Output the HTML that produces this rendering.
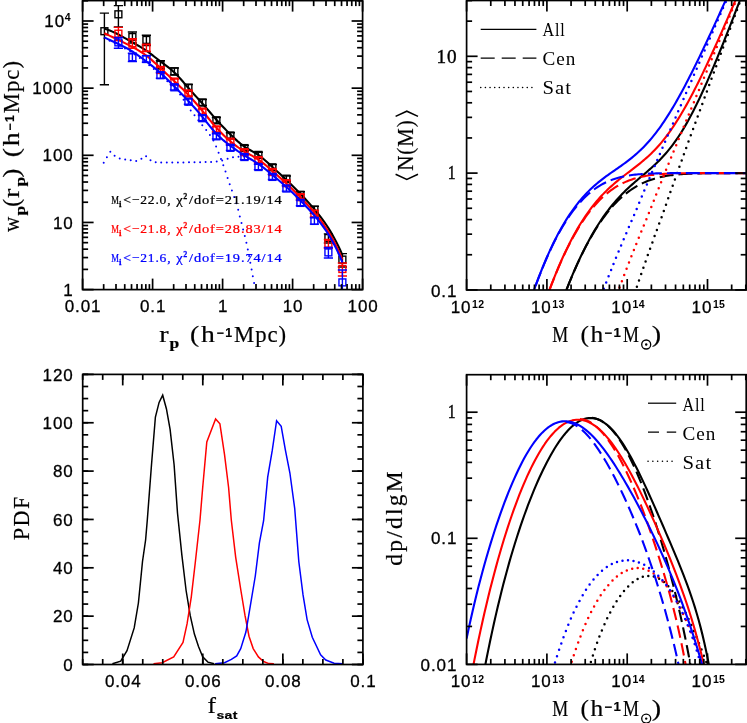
<!DOCTYPE html>
<html><head><meta charset="utf-8"><title>HOD figure</title>
<style>
html,body{margin:0;padding:0;background:#fff;}
body{width:747px;height:723px;overflow:hidden;font-family:"Liberation Sans",sans-serif;}
svg{display:block;will-change:transform;}
text{white-space:pre;}
</style></head><body>
<svg width="747" height="723" viewBox="0 0 747 723">
<rect width="747" height="723" fill="#fff"/>
<clipPath id="clip1"><rect x="82.6" y="0.6" width="280.0" height="289.0"/></clipPath>
<path d="M103.7 162.8h0M106.9 157.2h0M110.3 151.7h0M114.6 155.8h0M119.7 158.4h0M125.2 159.5h0M130.7 160.3h0M136.2 160.9h0M141.4 158.7h0M146.1 156.2h0M150.5 160.3h0M155.7 162.3h0M161.2 162.4h0M166.8 162.4h0M172.3 162.4h0M177.9 162.4h0M183.4 162.4h0M189.0 162.3h0M194.5 162.3h0M200.1 162.2h0M205.6 162.1h0M211.1 161.9h0M216.7 161.5h0M222.2 160.4h0M227.6 158.8h0M233.0 157.3h0M238.5 156.7h0M244.0 156.4h0" fill="none" stroke="#00f" stroke-width="2.0" stroke-linecap="round" clip-path="url(#clip1)"/>
<path d="M104.4 38.2h0M109.6 40.7h0M114.7 43.2h0M119.9 45.8h0M125.0 48.6h0M130.1 51.3h0M135.0 54.5h0M139.8 58.0h0M144.6 61.5h0M149.2 65.2h0M153.8 69.0h0M158.4 72.9h0M162.9 77.0h0M167.3 81.3h0M171.6 85.5h0M176.0 89.8h0M180.1 94.4h0M183.6 99.7h0M187.1 105.0h0M190.7 110.4h0M194.5 115.3h0M198.4 120.3h0M202.3 125.2h0M206.2 130.0h0M209.9 135.1h0M213.4 140.6h0M216.1 146.5h0M218.6 152.7h0M221.0 158.9h0M223.3 165.2h0M225.5 171.5h0M227.6 177.9h0M229.7 184.3h0M231.9 190.6h0M234.2 196.9h0M236.4 203.2h0M238.2 209.8h0M239.8 216.4h0M241.5 222.9h0M243.1 229.5h0M244.8 236.1h0M246.4 242.7h0M247.8 249.4h0M249.1 256.1h0M250.3 262.8h0M251.6 269.6h0M252.8 276.3h0M254.1 283.0h0M255.4 289.7h0" fill="none" stroke="#00f" stroke-width="2.0" stroke-linecap="round" clip-path="url(#clip1)"/>
<g clip-path="url(#clip1)" stroke="#000" stroke-width="1.4" fill="none">
<rect x="100.95" y="27.75" width="6.9" height="6.9"/>
<path d="M104.40 13.10V84.70M99.80 13.10H109.00M99.80 84.70H109.00"/>
<rect x="114.95" y="10.85" width="6.9" height="6.9"/>
<path d="M118.40 5.60V27.00M113.80 5.60H123.00M113.80 27.00H123.00"/>
<rect x="128.95" y="33.55" width="6.9" height="6.9"/>
<path d="M132.40 32.00V43.00M127.80 32.00H137.00M127.80 43.00H137.00"/>
<rect x="142.95" y="36.45" width="6.9" height="6.9"/>
<path d="M146.40 35.20V45.50M141.80 35.20H151.00M141.80 45.50H151.00"/>
<rect x="156.95" y="61.15" width="6.9" height="6.9"/>
<path d="M160.40 60.80V69.00M155.80 60.80H165.00M155.80 69.00H165.00"/>
<rect x="170.95" y="67.85" width="6.9" height="6.9"/>
<path d="M174.40 68.00V75.00M169.80 68.00H179.00M169.80 75.00H179.00"/>
<rect x="184.95" y="84.25" width="6.9" height="6.9"/>
<path d="M188.40 84.50V91.00M183.80 84.50H193.00M183.80 91.00H193.00"/>
<rect x="198.95" y="99.05" width="6.9" height="6.9"/>
<path d="M202.40 99.50V105.50M197.80 99.50H207.00M197.80 105.50H207.00"/>
<rect x="212.95" y="116.85" width="6.9" height="6.9"/>
<path d="M216.40 117.50V123.00M211.80 117.50H221.00M211.80 123.00H221.00"/>
<rect x="226.95" y="132.05" width="6.9" height="6.9"/>
<path d="M230.40 132.80V138.20M225.80 132.80H235.00M225.80 138.20H235.00"/>
<rect x="240.95" y="144.65" width="6.9" height="6.9"/>
<path d="M244.40 145.40V150.80M239.80 145.40H249.00M239.80 150.80H249.00"/>
<rect x="254.95" y="151.45" width="6.9" height="6.9"/>
<path d="M258.40 152.20V157.60M253.80 152.20H263.00M253.80 157.60H263.00"/>
<rect x="268.95" y="163.85" width="6.9" height="6.9"/>
<path d="M272.40 164.60V170.00M267.80 164.60H277.00M267.80 170.00H277.00"/>
<rect x="282.95" y="175.25" width="6.9" height="6.9"/>
<path d="M286.40 176.00V181.40M281.80 176.00H291.00M281.80 181.40H291.00"/>
<rect x="296.95" y="191.35" width="6.9" height="6.9"/>
<path d="M300.40 191.80V197.80M295.80 191.80H305.00M295.80 197.80H305.00"/>
<rect x="310.95" y="206.35" width="6.9" height="6.9"/>
<path d="M314.40 206.30V213.30M309.80 206.30H319.00M309.80 213.30H319.00"/>
<rect x="324.95" y="234.55" width="6.9" height="6.9"/>
<path d="M328.40 233.90V243.00M323.80 233.90H333.00M323.80 243.00H333.00"/>
<rect x="338.95" y="256.15" width="6.9" height="6.9"/>
<path d="M342.40 253.60V267.00M337.80 253.60H347.00M337.80 267.00H347.00"/>
</g>
<polyline points="104.40,28.80 106.40,29.36 108.40,30.01 110.40,30.76 112.40,31.60 114.40,32.50 116.40,33.47 118.40,34.50 120.40,35.57 122.40,36.68 124.40,37.81 126.40,38.95 128.40,40.11 130.40,41.26 132.40,42.40 134.40,43.52 136.40,44.64 138.40,45.76 140.40,46.92 142.40,48.11 144.40,49.37 146.40,50.70 148.40,52.12 150.40,53.60 152.40,55.14 154.40,56.71 156.40,58.29 158.40,59.86 160.40,61.40 162.40,62.90 164.40,64.37 166.40,65.86 168.40,67.38 170.40,68.98 172.40,70.67 174.40,72.50 176.40,74.48 178.40,76.58 180.40,78.79 182.40,81.06 184.40,83.38 186.40,85.70 188.40,88.00 190.40,90.26 192.40,92.48 194.40,94.67 196.40,96.86 198.40,99.05 200.40,101.26 202.40,103.50 204.40,105.79 206.40,108.10 208.40,110.44 210.40,112.78 212.40,115.12 214.40,117.43 216.40,119.70 218.40,121.93 220.40,124.10 222.40,126.24 224.40,128.33 226.40,130.39 228.40,132.41 230.40,134.40 232.40,136.36 234.40,138.28 236.40,140.13 238.40,141.91 240.40,143.59 242.40,145.16 244.40,146.60 246.40,147.90 248.40,149.10 250.40,150.23 252.40,151.34 254.40,152.48 256.40,153.69 258.40,155.00 260.40,156.45 262.40,158.04 264.40,159.72 266.40,161.48 268.40,163.30 270.40,165.15 272.40,167.00 274.40,168.84 276.40,170.67 278.40,172.49 280.40,174.32 282.40,176.16 284.40,178.01 286.40,179.90 288.40,181.82 290.40,183.77 292.40,185.75 294.40,187.75 296.40,189.78 298.40,191.83 300.40,193.90 302.40,195.98 304.40,198.09 306.40,200.22 308.40,202.40 310.40,204.61 312.40,206.88 314.40,209.20 316.40,211.59 318.40,214.06 320.40,216.62 322.40,219.29 324.40,222.09 326.40,225.02 328.40,228.10 330.40,231.35 332.40,234.77 334.40,238.39 336.40,242.22 338.40,246.27 340.40,250.56 342.40,255.10" fill="none" stroke="#000" stroke-width="2.1" stroke-linejoin="round" stroke-linecap="butt" clip-path="url(#clip1)"/>
<g clip-path="url(#clip1)" stroke="#f00" stroke-width="1.4" fill="none">
<rect x="114.95" y="30.25" width="6.9" height="6.9"/>
<path d="M118.40 27.40V40.50M113.80 27.40H123.00M113.80 40.50H123.00"/>
<rect x="128.95" y="39.75" width="6.9" height="6.9"/>
<path d="M132.40 38.70V48.20M127.80 38.70H137.00M127.80 48.20H137.00"/>
<rect x="142.95" y="44.35" width="6.9" height="6.9"/>
<path d="M146.40 44.50V51.50M141.80 44.50H151.00M141.80 51.50H151.00"/>
<rect x="156.95" y="66.55" width="6.9" height="6.9"/>
<path d="M160.40 67.00V73.00M155.80 67.00H165.00M155.80 73.00H165.00"/>
<rect x="170.95" y="78.15" width="6.9" height="6.9"/>
<path d="M174.40 79.00V84.20M169.80 79.00H179.00M169.80 84.20H179.00"/>
<rect x="184.95" y="89.95" width="6.9" height="6.9"/>
<path d="M188.40 90.80V96.00M183.80 90.80H193.00M183.80 96.00H193.00"/>
<rect x="198.95" y="108.15" width="6.9" height="6.9"/>
<path d="M202.40 109.00V114.20M197.80 109.00H207.00M197.80 114.20H207.00"/>
<rect x="212.95" y="125.95" width="6.9" height="6.9"/>
<path d="M216.40 126.80V132.00M211.80 126.80H221.00M211.80 132.00H221.00"/>
<rect x="226.95" y="138.25" width="6.9" height="6.9"/>
<path d="M230.40 139.10V144.30M225.80 139.10H235.00M225.80 144.30H235.00"/>
<rect x="240.95" y="148.75" width="6.9" height="6.9"/>
<path d="M244.40 149.60V154.80M239.80 149.60H249.00M239.80 154.80H249.00"/>
<rect x="254.95" y="156.65" width="6.9" height="6.9"/>
<path d="M258.40 157.50V162.70M253.80 157.50H263.00M253.80 162.70H263.00"/>
<rect x="268.95" y="168.55" width="6.9" height="6.9"/>
<path d="M272.40 169.40V174.60M267.80 169.40H277.00M267.80 174.60H277.00"/>
<rect x="282.95" y="179.75" width="6.9" height="6.9"/>
<path d="M286.40 180.60V185.80M281.80 180.60H291.00M281.80 185.80H291.00"/>
<rect x="296.95" y="193.75" width="6.9" height="6.9"/>
<path d="M300.40 194.40V200.00M295.80 194.40H305.00M295.80 200.00H305.00"/>
<rect x="310.95" y="210.25" width="6.9" height="6.9"/>
<path d="M314.40 210.50V216.90M309.80 210.50H319.00M309.80 216.90H319.00"/>
<rect x="324.95" y="240.25" width="6.9" height="6.9"/>
<path d="M328.40 239.50V248.20M323.80 239.50H333.00M323.80 248.20H333.00"/>
<rect x="338.95" y="265.55" width="6.9" height="6.9"/>
<path d="M342.40 263.00V276.00M337.80 263.00H347.00M337.80 276.00H347.00"/>
</g>
<polyline points="104.40,33.30 106.40,34.23 108.40,35.16 110.40,36.10 112.40,37.04 114.40,37.98 116.40,38.94 118.40,39.90 120.40,40.87 122.40,41.86 124.40,42.85 126.40,43.86 128.40,44.89 130.40,45.94 132.40,47.00 134.40,48.09 136.40,49.20 138.40,50.37 140.40,51.58 142.40,52.87 144.40,54.24 146.40,55.70 148.40,57.26 150.40,58.91 152.40,60.64 154.40,62.42 156.40,64.26 158.40,66.12 160.40,68.00 162.40,69.88 164.40,71.77 166.40,73.66 168.40,75.54 170.40,77.43 172.40,79.31 174.40,81.20 176.40,83.09 178.40,84.98 180.40,86.89 182.40,88.83 184.40,90.80 186.40,92.82 188.40,94.90 190.40,97.04 192.40,99.23 194.40,101.48 196.40,103.78 198.40,106.12 200.40,108.49 202.40,110.90 204.40,113.33 206.40,115.77 208.40,118.21 210.40,120.62 212.40,123.00 214.40,125.33 216.40,127.60 218.40,129.79 220.40,131.90 222.40,133.93 224.40,135.89 226.40,137.77 228.40,139.57 230.40,141.30 232.40,142.96 234.40,144.54 236.40,146.05 238.40,147.50 240.40,148.87 242.40,150.17 244.40,151.40 246.40,152.57 248.40,153.69 250.40,154.80 252.40,155.92 254.40,157.07 256.40,158.29 258.40,159.60 260.40,161.02 262.40,162.53 264.40,164.13 266.40,165.79 268.40,167.50 270.40,169.24 272.40,171.00 274.40,172.76 276.40,174.51 278.40,176.28 280.40,178.05 282.40,179.85 284.40,181.66 286.40,183.50 288.40,185.37 290.40,187.27 292.40,189.20 294.40,191.16 296.40,193.15 298.40,195.16 300.40,197.20 302.40,199.26 304.40,201.36 306.40,203.49 308.40,205.66 310.40,207.88 312.40,210.16 314.40,212.50 316.40,214.91 318.40,217.41 320.40,220.00 322.40,222.72 324.40,225.56 326.40,228.55 328.40,231.70 330.40,235.03 332.40,238.55 334.40,242.28 336.40,246.24 338.40,250.43 340.40,254.88 342.40,259.60" fill="none" stroke="#f00" stroke-width="2.1" stroke-linejoin="round" stroke-linecap="butt" clip-path="url(#clip1)"/>
<g clip-path="url(#clip1)" stroke="#00f" stroke-width="1.4" fill="none">
<rect x="114.95" y="38.95" width="6.9" height="6.9"/>
<path d="M118.40 37.40V48.20M113.80 37.40H123.00M113.80 48.20H123.00"/>
<rect x="128.95" y="53.85" width="6.9" height="6.9"/>
<path d="M132.40 53.20V61.50M127.80 53.20H137.00M127.80 61.50H137.00"/>
<rect x="142.95" y="55.55" width="6.9" height="6.9"/>
<path d="M146.40 55.70V62.30M141.80 55.70H151.00M141.80 62.30H151.00"/>
<rect x="156.95" y="71.75" width="6.9" height="6.9"/>
<path d="M160.40 72.20V78.20M155.80 72.20H165.00M155.80 78.20H165.00"/>
<rect x="170.95" y="83.85" width="6.9" height="6.9"/>
<path d="M174.40 84.70V89.90M169.80 84.70H179.00M169.80 89.90H179.00"/>
<rect x="184.95" y="98.25" width="6.9" height="6.9"/>
<path d="M188.40 99.10V104.30M183.80 99.10H193.00M183.80 104.30H193.00"/>
<rect x="198.95" y="114.75" width="6.9" height="6.9"/>
<path d="M202.40 115.60V120.80M197.80 115.60H207.00M197.80 120.80H207.00"/>
<rect x="212.95" y="132.85" width="6.9" height="6.9"/>
<path d="M216.40 133.70V138.90M211.80 133.70H221.00M211.80 138.90H221.00"/>
<rect x="226.95" y="144.35" width="6.9" height="6.9"/>
<path d="M230.40 145.20V150.40M225.80 145.20H235.00M225.80 150.40H235.00"/>
<rect x="240.95" y="153.55" width="6.9" height="6.9"/>
<path d="M244.40 154.40V159.60M239.80 154.40H249.00M239.80 159.60H249.00"/>
<rect x="254.95" y="163.55" width="6.9" height="6.9"/>
<path d="M258.40 164.40V169.60M253.80 164.40H263.00M253.80 169.60H263.00"/>
<rect x="268.95" y="173.45" width="6.9" height="6.9"/>
<path d="M272.40 174.30V179.50M267.80 174.30H277.00M267.80 179.50H277.00"/>
<rect x="282.95" y="185.05" width="6.9" height="6.9"/>
<path d="M286.40 185.90V191.10M281.80 185.90H291.00M281.80 191.10H291.00"/>
<rect x="296.95" y="199.45" width="6.9" height="6.9"/>
<path d="M300.40 200.10V205.70M295.80 200.10H305.00M295.80 205.70H305.00"/>
<rect x="310.95" y="217.45" width="6.9" height="6.9"/>
<path d="M314.40 217.70V224.10M309.80 217.70H319.00M309.80 224.10H319.00"/>
<rect x="324.95" y="248.95" width="6.9" height="6.9"/>
<path d="M328.40 247.50V258.00M323.80 247.50H333.00M323.80 258.00H333.00"/>
<rect x="338.95" y="278.95" width="6.9" height="6.9"/>
<path d="M342.40 270.00V296.00M337.80 270.00H347.00M337.80 296.00H347.00"/>
</g>
<polyline points="104.40,37.40 106.40,38.39 108.40,39.34 110.40,40.28 112.40,41.21 114.40,42.14 116.40,43.06 118.40,44.00 120.40,44.96 122.40,45.94 124.40,46.95 126.40,48.01 128.40,49.12 130.40,50.28 132.40,51.50 134.40,52.79 136.40,54.15 138.40,55.55 140.40,57.00 142.40,58.48 144.40,59.98 146.40,61.50 148.40,63.02 150.40,64.56 152.40,66.12 154.40,67.72 156.40,69.36 158.40,71.05 160.40,72.80 162.40,74.62 164.40,76.51 166.40,78.45 168.40,80.42 170.40,82.43 172.40,84.46 174.40,86.50 176.40,88.54 178.40,90.58 180.40,92.64 182.40,94.70 184.40,96.78 186.40,98.88 188.40,101.00 190.40,103.15 192.40,105.34 194.40,107.56 196.40,109.82 198.40,112.13 200.40,114.49 202.40,116.90 204.40,119.36 206.40,121.86 208.40,124.35 210.40,126.81 212.40,129.21 214.40,131.51 216.40,133.70 218.40,135.74 220.40,137.65 222.40,139.44 224.40,141.13 226.40,142.75 228.40,144.30 230.40,145.80 232.40,147.27 234.40,148.72 236.40,150.13 238.40,151.51 240.40,152.84 242.40,154.14 244.40,155.40 246.40,156.62 248.40,157.80 250.40,158.98 252.40,160.18 254.40,161.40 256.40,162.67 258.40,164.00 260.40,165.41 262.40,166.90 264.40,168.45 266.40,170.05 268.40,171.68 270.40,173.33 272.40,175.00 274.40,176.67 276.40,178.34 278.40,180.03 280.40,181.73 282.40,183.45 284.40,185.21 286.40,187.00 288.40,188.83 290.40,190.70 292.40,192.60 294.40,194.54 296.40,196.50 298.40,198.49 300.40,200.50 302.40,202.53 304.40,204.59 306.40,206.67 308.40,208.80 310.40,210.98 312.40,213.21 314.40,215.50 316.40,217.86 318.40,220.31 320.40,222.86 322.40,225.53 324.40,228.33 326.40,231.28 328.40,234.40 330.40,237.70 332.40,241.21 334.40,244.93 336.40,248.88 338.40,253.08 340.40,257.55 342.40,262.30" fill="none" stroke="#00f" stroke-width="2.1" stroke-linejoin="round" stroke-linecap="butt" clip-path="url(#clip1)"/>
<rect x="82.6" y="0.6" width="280.0" height="289.0" fill="none" stroke="#000" stroke-width="1.7"/>
<line x1="82.60" y1="289.60" x2="82.60" y2="278.60" stroke="#000" stroke-width="1.7" />
<line x1="82.60" y1="0.60" x2="82.60" y2="11.60" stroke="#000" stroke-width="1.7" />
<line x1="152.60" y1="289.60" x2="152.60" y2="278.60" stroke="#000" stroke-width="1.7" />
<line x1="152.60" y1="0.60" x2="152.60" y2="11.60" stroke="#000" stroke-width="1.7" />
<line x1="222.60" y1="289.60" x2="222.60" y2="278.60" stroke="#000" stroke-width="1.7" />
<line x1="222.60" y1="0.60" x2="222.60" y2="11.60" stroke="#000" stroke-width="1.7" />
<line x1="292.60" y1="289.60" x2="292.60" y2="278.60" stroke="#000" stroke-width="1.7" />
<line x1="292.60" y1="0.60" x2="292.60" y2="11.60" stroke="#000" stroke-width="1.7" />
<line x1="362.60" y1="289.60" x2="362.60" y2="278.60" stroke="#000" stroke-width="1.7" />
<line x1="362.60" y1="0.60" x2="362.60" y2="11.60" stroke="#000" stroke-width="1.7" />
<line x1="103.67" y1="289.60" x2="103.67" y2="284.10" stroke="#000" stroke-width="1.7" />
<line x1="103.67" y1="0.60" x2="103.67" y2="6.10" stroke="#000" stroke-width="1.7" />
<line x1="116.00" y1="289.60" x2="116.00" y2="284.10" stroke="#000" stroke-width="1.7" />
<line x1="116.00" y1="0.60" x2="116.00" y2="6.10" stroke="#000" stroke-width="1.7" />
<line x1="124.74" y1="289.60" x2="124.74" y2="284.10" stroke="#000" stroke-width="1.7" />
<line x1="124.74" y1="0.60" x2="124.74" y2="6.10" stroke="#000" stroke-width="1.7" />
<line x1="131.53" y1="289.60" x2="131.53" y2="284.10" stroke="#000" stroke-width="1.7" />
<line x1="131.53" y1="0.60" x2="131.53" y2="6.10" stroke="#000" stroke-width="1.7" />
<line x1="137.07" y1="289.60" x2="137.07" y2="284.10" stroke="#000" stroke-width="1.7" />
<line x1="137.07" y1="0.60" x2="137.07" y2="6.10" stroke="#000" stroke-width="1.7" />
<line x1="141.76" y1="289.60" x2="141.76" y2="284.10" stroke="#000" stroke-width="1.7" />
<line x1="141.76" y1="0.60" x2="141.76" y2="6.10" stroke="#000" stroke-width="1.7" />
<line x1="145.82" y1="289.60" x2="145.82" y2="284.10" stroke="#000" stroke-width="1.7" />
<line x1="145.82" y1="0.60" x2="145.82" y2="6.10" stroke="#000" stroke-width="1.7" />
<line x1="149.40" y1="289.60" x2="149.40" y2="284.10" stroke="#000" stroke-width="1.7" />
<line x1="149.40" y1="0.60" x2="149.40" y2="6.10" stroke="#000" stroke-width="1.7" />
<line x1="173.67" y1="289.60" x2="173.67" y2="284.10" stroke="#000" stroke-width="1.7" />
<line x1="173.67" y1="0.60" x2="173.67" y2="6.10" stroke="#000" stroke-width="1.7" />
<line x1="186.00" y1="289.60" x2="186.00" y2="284.10" stroke="#000" stroke-width="1.7" />
<line x1="186.00" y1="0.60" x2="186.00" y2="6.10" stroke="#000" stroke-width="1.7" />
<line x1="194.74" y1="289.60" x2="194.74" y2="284.10" stroke="#000" stroke-width="1.7" />
<line x1="194.74" y1="0.60" x2="194.74" y2="6.10" stroke="#000" stroke-width="1.7" />
<line x1="201.53" y1="289.60" x2="201.53" y2="284.10" stroke="#000" stroke-width="1.7" />
<line x1="201.53" y1="0.60" x2="201.53" y2="6.10" stroke="#000" stroke-width="1.7" />
<line x1="207.07" y1="289.60" x2="207.07" y2="284.10" stroke="#000" stroke-width="1.7" />
<line x1="207.07" y1="0.60" x2="207.07" y2="6.10" stroke="#000" stroke-width="1.7" />
<line x1="211.76" y1="289.60" x2="211.76" y2="284.10" stroke="#000" stroke-width="1.7" />
<line x1="211.76" y1="0.60" x2="211.76" y2="6.10" stroke="#000" stroke-width="1.7" />
<line x1="215.82" y1="289.60" x2="215.82" y2="284.10" stroke="#000" stroke-width="1.7" />
<line x1="215.82" y1="0.60" x2="215.82" y2="6.10" stroke="#000" stroke-width="1.7" />
<line x1="219.40" y1="289.60" x2="219.40" y2="284.10" stroke="#000" stroke-width="1.7" />
<line x1="219.40" y1="0.60" x2="219.40" y2="6.10" stroke="#000" stroke-width="1.7" />
<line x1="243.67" y1="289.60" x2="243.67" y2="284.10" stroke="#000" stroke-width="1.7" />
<line x1="243.67" y1="0.60" x2="243.67" y2="6.10" stroke="#000" stroke-width="1.7" />
<line x1="256.00" y1="289.60" x2="256.00" y2="284.10" stroke="#000" stroke-width="1.7" />
<line x1="256.00" y1="0.60" x2="256.00" y2="6.10" stroke="#000" stroke-width="1.7" />
<line x1="264.74" y1="289.60" x2="264.74" y2="284.10" stroke="#000" stroke-width="1.7" />
<line x1="264.74" y1="0.60" x2="264.74" y2="6.10" stroke="#000" stroke-width="1.7" />
<line x1="271.53" y1="289.60" x2="271.53" y2="284.10" stroke="#000" stroke-width="1.7" />
<line x1="271.53" y1="0.60" x2="271.53" y2="6.10" stroke="#000" stroke-width="1.7" />
<line x1="277.07" y1="289.60" x2="277.07" y2="284.10" stroke="#000" stroke-width="1.7" />
<line x1="277.07" y1="0.60" x2="277.07" y2="6.10" stroke="#000" stroke-width="1.7" />
<line x1="281.76" y1="289.60" x2="281.76" y2="284.10" stroke="#000" stroke-width="1.7" />
<line x1="281.76" y1="0.60" x2="281.76" y2="6.10" stroke="#000" stroke-width="1.7" />
<line x1="285.82" y1="289.60" x2="285.82" y2="284.10" stroke="#000" stroke-width="1.7" />
<line x1="285.82" y1="0.60" x2="285.82" y2="6.10" stroke="#000" stroke-width="1.7" />
<line x1="289.40" y1="289.60" x2="289.40" y2="284.10" stroke="#000" stroke-width="1.7" />
<line x1="289.40" y1="0.60" x2="289.40" y2="6.10" stroke="#000" stroke-width="1.7" />
<line x1="313.67" y1="289.60" x2="313.67" y2="284.10" stroke="#000" stroke-width="1.7" />
<line x1="313.67" y1="0.60" x2="313.67" y2="6.10" stroke="#000" stroke-width="1.7" />
<line x1="326.00" y1="289.60" x2="326.00" y2="284.10" stroke="#000" stroke-width="1.7" />
<line x1="326.00" y1="0.60" x2="326.00" y2="6.10" stroke="#000" stroke-width="1.7" />
<line x1="334.74" y1="289.60" x2="334.74" y2="284.10" stroke="#000" stroke-width="1.7" />
<line x1="334.74" y1="0.60" x2="334.74" y2="6.10" stroke="#000" stroke-width="1.7" />
<line x1="341.53" y1="289.60" x2="341.53" y2="284.10" stroke="#000" stroke-width="1.7" />
<line x1="341.53" y1="0.60" x2="341.53" y2="6.10" stroke="#000" stroke-width="1.7" />
<line x1="347.07" y1="289.60" x2="347.07" y2="284.10" stroke="#000" stroke-width="1.7" />
<line x1="347.07" y1="0.60" x2="347.07" y2="6.10" stroke="#000" stroke-width="1.7" />
<line x1="351.76" y1="289.60" x2="351.76" y2="284.10" stroke="#000" stroke-width="1.7" />
<line x1="351.76" y1="0.60" x2="351.76" y2="6.10" stroke="#000" stroke-width="1.7" />
<line x1="355.82" y1="289.60" x2="355.82" y2="284.10" stroke="#000" stroke-width="1.7" />
<line x1="355.82" y1="0.60" x2="355.82" y2="6.10" stroke="#000" stroke-width="1.7" />
<line x1="359.40" y1="289.60" x2="359.40" y2="284.10" stroke="#000" stroke-width="1.7" />
<line x1="359.40" y1="0.60" x2="359.40" y2="6.10" stroke="#000" stroke-width="1.7" />
<line x1="82.60" y1="289.60" x2="93.60" y2="289.60" stroke="#000" stroke-width="1.7" />
<line x1="362.60" y1="289.60" x2="351.60" y2="289.60" stroke="#000" stroke-width="1.7" />
<line x1="82.60" y1="222.45" x2="93.60" y2="222.45" stroke="#000" stroke-width="1.7" />
<line x1="362.60" y1="222.45" x2="351.60" y2="222.45" stroke="#000" stroke-width="1.7" />
<line x1="82.60" y1="155.30" x2="93.60" y2="155.30" stroke="#000" stroke-width="1.7" />
<line x1="362.60" y1="155.30" x2="351.60" y2="155.30" stroke="#000" stroke-width="1.7" />
<line x1="82.60" y1="88.15" x2="93.60" y2="88.15" stroke="#000" stroke-width="1.7" />
<line x1="362.60" y1="88.15" x2="351.60" y2="88.15" stroke="#000" stroke-width="1.7" />
<line x1="82.60" y1="21.00" x2="93.60" y2="21.00" stroke="#000" stroke-width="1.7" />
<line x1="362.60" y1="21.00" x2="351.60" y2="21.00" stroke="#000" stroke-width="1.7" />
<line x1="82.60" y1="269.39" x2="88.10" y2="269.39" stroke="#000" stroke-width="1.7" />
<line x1="362.60" y1="269.39" x2="357.10" y2="269.39" stroke="#000" stroke-width="1.7" />
<line x1="82.60" y1="257.56" x2="88.10" y2="257.56" stroke="#000" stroke-width="1.7" />
<line x1="362.60" y1="257.56" x2="357.10" y2="257.56" stroke="#000" stroke-width="1.7" />
<line x1="82.60" y1="249.17" x2="88.10" y2="249.17" stroke="#000" stroke-width="1.7" />
<line x1="362.60" y1="249.17" x2="357.10" y2="249.17" stroke="#000" stroke-width="1.7" />
<line x1="82.60" y1="242.66" x2="88.10" y2="242.66" stroke="#000" stroke-width="1.7" />
<line x1="362.60" y1="242.66" x2="357.10" y2="242.66" stroke="#000" stroke-width="1.7" />
<line x1="82.60" y1="237.35" x2="88.10" y2="237.35" stroke="#000" stroke-width="1.7" />
<line x1="362.60" y1="237.35" x2="357.10" y2="237.35" stroke="#000" stroke-width="1.7" />
<line x1="82.60" y1="232.85" x2="88.10" y2="232.85" stroke="#000" stroke-width="1.7" />
<line x1="362.60" y1="232.85" x2="357.10" y2="232.85" stroke="#000" stroke-width="1.7" />
<line x1="82.60" y1="228.96" x2="88.10" y2="228.96" stroke="#000" stroke-width="1.7" />
<line x1="362.60" y1="228.96" x2="357.10" y2="228.96" stroke="#000" stroke-width="1.7" />
<line x1="82.60" y1="225.52" x2="88.10" y2="225.52" stroke="#000" stroke-width="1.7" />
<line x1="362.60" y1="225.52" x2="357.10" y2="225.52" stroke="#000" stroke-width="1.7" />
<line x1="82.60" y1="202.24" x2="88.10" y2="202.24" stroke="#000" stroke-width="1.7" />
<line x1="362.60" y1="202.24" x2="357.10" y2="202.24" stroke="#000" stroke-width="1.7" />
<line x1="82.60" y1="190.41" x2="88.10" y2="190.41" stroke="#000" stroke-width="1.7" />
<line x1="362.60" y1="190.41" x2="357.10" y2="190.41" stroke="#000" stroke-width="1.7" />
<line x1="82.60" y1="182.02" x2="88.10" y2="182.02" stroke="#000" stroke-width="1.7" />
<line x1="362.60" y1="182.02" x2="357.10" y2="182.02" stroke="#000" stroke-width="1.7" />
<line x1="82.60" y1="175.51" x2="88.10" y2="175.51" stroke="#000" stroke-width="1.7" />
<line x1="362.60" y1="175.51" x2="357.10" y2="175.51" stroke="#000" stroke-width="1.7" />
<line x1="82.60" y1="170.20" x2="88.10" y2="170.20" stroke="#000" stroke-width="1.7" />
<line x1="362.60" y1="170.20" x2="357.10" y2="170.20" stroke="#000" stroke-width="1.7" />
<line x1="82.60" y1="165.70" x2="88.10" y2="165.70" stroke="#000" stroke-width="1.7" />
<line x1="362.60" y1="165.70" x2="357.10" y2="165.70" stroke="#000" stroke-width="1.7" />
<line x1="82.60" y1="161.81" x2="88.10" y2="161.81" stroke="#000" stroke-width="1.7" />
<line x1="362.60" y1="161.81" x2="357.10" y2="161.81" stroke="#000" stroke-width="1.7" />
<line x1="82.60" y1="158.37" x2="88.10" y2="158.37" stroke="#000" stroke-width="1.7" />
<line x1="362.60" y1="158.37" x2="357.10" y2="158.37" stroke="#000" stroke-width="1.7" />
<line x1="82.60" y1="135.09" x2="88.10" y2="135.09" stroke="#000" stroke-width="1.7" />
<line x1="362.60" y1="135.09" x2="357.10" y2="135.09" stroke="#000" stroke-width="1.7" />
<line x1="82.60" y1="123.26" x2="88.10" y2="123.26" stroke="#000" stroke-width="1.7" />
<line x1="362.60" y1="123.26" x2="357.10" y2="123.26" stroke="#000" stroke-width="1.7" />
<line x1="82.60" y1="114.87" x2="88.10" y2="114.87" stroke="#000" stroke-width="1.7" />
<line x1="362.60" y1="114.87" x2="357.10" y2="114.87" stroke="#000" stroke-width="1.7" />
<line x1="82.60" y1="108.36" x2="88.10" y2="108.36" stroke="#000" stroke-width="1.7" />
<line x1="362.60" y1="108.36" x2="357.10" y2="108.36" stroke="#000" stroke-width="1.7" />
<line x1="82.60" y1="103.05" x2="88.10" y2="103.05" stroke="#000" stroke-width="1.7" />
<line x1="362.60" y1="103.05" x2="357.10" y2="103.05" stroke="#000" stroke-width="1.7" />
<line x1="82.60" y1="98.55" x2="88.10" y2="98.55" stroke="#000" stroke-width="1.7" />
<line x1="362.60" y1="98.55" x2="357.10" y2="98.55" stroke="#000" stroke-width="1.7" />
<line x1="82.60" y1="94.66" x2="88.10" y2="94.66" stroke="#000" stroke-width="1.7" />
<line x1="362.60" y1="94.66" x2="357.10" y2="94.66" stroke="#000" stroke-width="1.7" />
<line x1="82.60" y1="91.22" x2="88.10" y2="91.22" stroke="#000" stroke-width="1.7" />
<line x1="362.60" y1="91.22" x2="357.10" y2="91.22" stroke="#000" stroke-width="1.7" />
<line x1="82.60" y1="67.94" x2="88.10" y2="67.94" stroke="#000" stroke-width="1.7" />
<line x1="362.60" y1="67.94" x2="357.10" y2="67.94" stroke="#000" stroke-width="1.7" />
<line x1="82.60" y1="56.11" x2="88.10" y2="56.11" stroke="#000" stroke-width="1.7" />
<line x1="362.60" y1="56.11" x2="357.10" y2="56.11" stroke="#000" stroke-width="1.7" />
<line x1="82.60" y1="47.72" x2="88.10" y2="47.72" stroke="#000" stroke-width="1.7" />
<line x1="362.60" y1="47.72" x2="357.10" y2="47.72" stroke="#000" stroke-width="1.7" />
<line x1="82.60" y1="41.21" x2="88.10" y2="41.21" stroke="#000" stroke-width="1.7" />
<line x1="362.60" y1="41.21" x2="357.10" y2="41.21" stroke="#000" stroke-width="1.7" />
<line x1="82.60" y1="35.90" x2="88.10" y2="35.90" stroke="#000" stroke-width="1.7" />
<line x1="362.60" y1="35.90" x2="357.10" y2="35.90" stroke="#000" stroke-width="1.7" />
<line x1="82.60" y1="31.40" x2="88.10" y2="31.40" stroke="#000" stroke-width="1.7" />
<line x1="362.60" y1="31.40" x2="357.10" y2="31.40" stroke="#000" stroke-width="1.7" />
<line x1="82.60" y1="27.51" x2="88.10" y2="27.51" stroke="#000" stroke-width="1.7" />
<line x1="362.60" y1="27.51" x2="357.10" y2="27.51" stroke="#000" stroke-width="1.7" />
<line x1="82.60" y1="24.07" x2="88.10" y2="24.07" stroke="#000" stroke-width="1.7" />
<line x1="362.60" y1="24.07" x2="357.10" y2="24.07" stroke="#000" stroke-width="1.7" />
<line x1="82.60" y1="0.79" x2="88.10" y2="0.79" stroke="#000" stroke-width="1.7" />
<line x1="362.60" y1="0.79" x2="357.10" y2="0.79" stroke="#000" stroke-width="1.7" />
<text x="0" y="0" transform="translate(83.10 311.80)" text-anchor="middle" fill="#000" style="font-family:'Liberation Sans',sans-serif;font-size:17px;font-weight:normal;letter-spacing:0.9px;"  stroke="#000" stroke-width="0.3">0.01</text>
<text x="0" y="0" transform="translate(153.10 311.80)" text-anchor="middle" fill="#000" style="font-family:'Liberation Sans',sans-serif;font-size:17px;font-weight:normal;letter-spacing:0.9px;"  stroke="#000" stroke-width="0.3">0.1</text>
<text x="0" y="0" transform="translate(223.10 311.80)" text-anchor="middle" fill="#000" style="font-family:'Liberation Sans',sans-serif;font-size:17px;font-weight:normal;letter-spacing:0.9px;"  stroke="#000" stroke-width="0.3">1</text>
<text x="0" y="0" transform="translate(293.10 311.80)" text-anchor="middle" fill="#000" style="font-family:'Liberation Sans',sans-serif;font-size:17px;font-weight:normal;letter-spacing:0.9px;"  stroke="#000" stroke-width="0.3">10</text>
<text x="0" y="0" transform="translate(363.10 311.80)" text-anchor="middle" fill="#000" style="font-family:'Liberation Sans',sans-serif;font-size:17px;font-weight:normal;letter-spacing:0.9px;"  stroke="#000" stroke-width="0.3">100</text>
<text x="0" y="0" transform="translate(73.60 295.70)" text-anchor="end" fill="#000" style="font-family:'Liberation Sans',sans-serif;font-size:17px;font-weight:normal;letter-spacing:0.9px;"  stroke="#000" stroke-width="0.3">1</text>
<text x="0" y="0" transform="translate(73.60 228.55)" text-anchor="end" fill="#000" style="font-family:'Liberation Sans',sans-serif;font-size:17px;font-weight:normal;letter-spacing:0.9px;"  stroke="#000" stroke-width="0.3">10</text>
<text x="0" y="0" transform="translate(73.60 161.40)" text-anchor="end" fill="#000" style="font-family:'Liberation Sans',sans-serif;font-size:17px;font-weight:normal;letter-spacing:0.9px;"  stroke="#000" stroke-width="0.3">100</text>
<text x="0" y="0" transform="translate(73.60 94.25)" text-anchor="end" fill="#000" style="font-family:'Liberation Sans',sans-serif;font-size:17px;font-weight:normal;letter-spacing:0.9px;"  stroke="#000" stroke-width="0.3">1000</text>
<text x="0" y="0" transform="translate(65.00 27.10)" text-anchor="end" fill="#000" style="font-family:'Liberation Sans',sans-serif;font-size:17px;font-weight:normal;letter-spacing:0.9px;"  stroke="#000" stroke-width="0.3">10</text>
<text x="0" y="0" transform="translate(64.80 20.80)" text-anchor="start" fill="#000" style="font-family:'Liberation Sans',sans-serif;font-size:10.5px;font-weight:bold;" >4</text>
<text x="0" y="0" transform="translate(159.19 341.80) scale(1.2500 1)" fill="#000" style="font-family:'Liberation Serif',serif;font-size:22.5px;font-weight:normal;letter-spacing:0.0px;" stroke="#000" stroke-width="0.18">r</text>
<text x="0" y="0" transform="translate(169.57 347.70) scale(1.2500 1)" fill="#000" style="font-family:'Liberation Serif',serif;font-size:14px;font-weight:bold;letter-spacing:0.0px;" stroke="#000" stroke-width="0.18">p</text>
<text x="0" y="0" transform="translate(189.89 341.80) scale(1.2309 1)" fill="#000" style="font-family:'Liberation Serif',serif;font-size:22.5px;font-weight:normal;letter-spacing:1.5px;" stroke="#000" stroke-width="0.18">(h</text>
<text x="0" y="0" transform="translate(216.99 336.60) scale(1.0280 1)" fill="#000" style="font-family:'Liberation Sans',sans-serif;font-size:12px;font-weight:bold;letter-spacing:1.0px;" stroke="#000" stroke-width="0.18">−1</text>
<text x="0" y="0" transform="translate(233.99 341.80) scale(1.0091 1)" fill="#000" style="font-family:'Liberation Serif',serif;font-size:22.5px;font-weight:normal;letter-spacing:1.0px;" stroke="#000" stroke-width="0.18">Mpc)</text>
<text x="0" y="0" transform="translate(18.80 232.00) rotate(-90) scale(0.9383 1)" fill="#000" style="font-family:'Liberation Serif',serif;font-size:22.5px;font-weight:normal;letter-spacing:0.0px;" stroke="#000" stroke-width="0.18">w</text>
<text x="0" y="0" transform="translate(24.60 215.38) rotate(-90) scale(1.2500 1)" fill="#000" style="font-family:'Liberation Serif',serif;font-size:14px;font-weight:bold;letter-spacing:0.0px;" stroke="#000" stroke-width="0.18">p</text>
<text x="0" y="0" transform="translate(18.80 206.65) rotate(-90) scale(1.0508 1)" fill="#000" style="font-family:'Liberation Serif',serif;font-size:22.5px;font-weight:normal;letter-spacing:0.0px;" stroke="#000" stroke-width="0.18">(</text>
<text x="0" y="0" transform="translate(18.80 198.06) rotate(-90) scale(1.2500 1)" fill="#000" style="font-family:'Liberation Serif',serif;font-size:22.5px;font-weight:normal;letter-spacing:0.0px;" stroke="#000" stroke-width="0.18">r</text>
<text x="0" y="0" transform="translate(24.60 186.43) rotate(-90) scale(1.2500 1)" fill="#000" style="font-family:'Liberation Serif',serif;font-size:14px;font-weight:bold;letter-spacing:0.0px;" stroke="#000" stroke-width="0.18">p</text>
<text x="0" y="0" transform="translate(18.80 177.53) rotate(-90) scale(1.1864 1)" fill="#000" style="font-family:'Liberation Serif',serif;font-size:22.5px;font-weight:normal;letter-spacing:0.0px;" stroke="#000" stroke-width="0.18">)</text>
<text x="0" y="0" transform="translate(18.80 157.31) rotate(-90) scale(1.2309 1)" fill="#000" style="font-family:'Liberation Serif',serif;font-size:22.5px;font-weight:normal;letter-spacing:1.5px;" stroke="#000" stroke-width="0.18">(h</text>
<text x="0" y="0" transform="translate(13.60 130.21) rotate(-90) scale(1.0280 1)" fill="#000" style="font-family:'Liberation Sans',sans-serif;font-size:12px;font-weight:bold;letter-spacing:1.0px;" stroke="#000" stroke-width="0.18">−1</text>
<text x="0" y="0" transform="translate(18.80 113.21) rotate(-90) scale(1.0091 1)" fill="#000" style="font-family:'Liberation Serif',serif;font-size:22.5px;font-weight:normal;letter-spacing:1.0px;" stroke="#000" stroke-width="0.18">Mpc)</text>
<text x="0" y="0" transform="translate(111.20 203.70) scale(0.6697 1)" fill="#000" style="font-family:'Liberation Serif',serif;font-size:13px;font-weight:normal;letter-spacing:0.0px;" stroke="#000" stroke-width="0.25">M</text>
<text x="0" y="0" transform="translate(119.10 206.70) scale(1.0455 1)" fill="#000" style="font-family:'Liberation Serif',serif;font-size:8.5px;font-weight:bold;letter-spacing:0.0px;" stroke="#000" stroke-width="0.25">i</text>
<text x="0" y="0" transform="translate(123.17 203.70) scale(1.0451 1)" fill="#000" style="font-family:'Liberation Serif',serif;font-size:13px;font-weight:normal;letter-spacing:0.8px;" stroke="#000" stroke-width="0.25">&lt;−22.0,</text>
<text x="0" y="0" transform="translate(176.20 203.70) scale(1.1186 1)" fill="#000" style="font-family:'Liberation Serif',serif;font-size:13px;font-weight:normal;letter-spacing:0.0px;" stroke="#000" stroke-width="0.25">χ</text>
<text x="0" y="0" transform="translate(183.32 199.40) scale(0.9444 1)" fill="#000" style="font-family:'Liberation Serif',serif;font-size:8.5px;font-weight:bold;letter-spacing:0.0px;" stroke="#000" stroke-width="0.25">2</text>
<text x="0" y="0" transform="translate(189.00 203.70) scale(1.1085 1)" fill="#000" style="font-family:'Liberation Serif',serif;font-size:13px;font-weight:normal;letter-spacing:0.8px;" stroke="#000" stroke-width="0.25">/dof=21.19/14</text>
<text x="0" y="0" transform="translate(111.20 232.50) scale(0.6697 1)" fill="#f00" style="font-family:'Liberation Serif',serif;font-size:13px;font-weight:normal;letter-spacing:0.0px;" stroke="#f00" stroke-width="0.25">M</text>
<text x="0" y="0" transform="translate(119.10 235.50) scale(1.0455 1)" fill="#f00" style="font-family:'Liberation Serif',serif;font-size:8.5px;font-weight:bold;letter-spacing:0.0px;" stroke="#f00" stroke-width="0.25">i</text>
<text x="0" y="0" transform="translate(123.17 232.50) scale(1.0451 1)" fill="#f00" style="font-family:'Liberation Serif',serif;font-size:13px;font-weight:normal;letter-spacing:0.8px;" stroke="#f00" stroke-width="0.25">&lt;−21.8,</text>
<text x="0" y="0" transform="translate(176.20 232.50) scale(1.1186 1)" fill="#f00" style="font-family:'Liberation Serif',serif;font-size:13px;font-weight:normal;letter-spacing:0.0px;" stroke="#f00" stroke-width="0.25">χ</text>
<text x="0" y="0" transform="translate(183.32 228.20) scale(0.9444 1)" fill="#f00" style="font-family:'Liberation Serif',serif;font-size:8.5px;font-weight:bold;letter-spacing:0.0px;" stroke="#f00" stroke-width="0.25">2</text>
<text x="0" y="0" transform="translate(189.00 232.50) scale(1.1085 1)" fill="#f00" style="font-family:'Liberation Serif',serif;font-size:13px;font-weight:normal;letter-spacing:0.8px;" stroke="#f00" stroke-width="0.25">/dof=28.83/14</text>
<text x="0" y="0" transform="translate(111.20 261.50) scale(0.6697 1)" fill="#00f" style="font-family:'Liberation Serif',serif;font-size:13px;font-weight:normal;letter-spacing:0.0px;" stroke="#00f" stroke-width="0.25">M</text>
<text x="0" y="0" transform="translate(119.10 264.50) scale(1.0455 1)" fill="#00f" style="font-family:'Liberation Serif',serif;font-size:8.5px;font-weight:bold;letter-spacing:0.0px;" stroke="#00f" stroke-width="0.25">i</text>
<text x="0" y="0" transform="translate(123.17 261.50) scale(1.0451 1)" fill="#00f" style="font-family:'Liberation Serif',serif;font-size:13px;font-weight:normal;letter-spacing:0.8px;" stroke="#00f" stroke-width="0.25">&lt;−21.6,</text>
<text x="0" y="0" transform="translate(176.20 261.50) scale(1.1186 1)" fill="#00f" style="font-family:'Liberation Serif',serif;font-size:13px;font-weight:normal;letter-spacing:0.0px;" stroke="#00f" stroke-width="0.25">χ</text>
<text x="0" y="0" transform="translate(183.32 257.20) scale(0.9444 1)" fill="#00f" style="font-family:'Liberation Serif',serif;font-size:8.5px;font-weight:bold;letter-spacing:0.0px;" stroke="#00f" stroke-width="0.25">2</text>
<text x="0" y="0" transform="translate(189.00 261.50) scale(1.1085 1)" fill="#00f" style="font-family:'Liberation Serif',serif;font-size:13px;font-weight:normal;letter-spacing:0.8px;" stroke="#00f" stroke-width="0.25">/dof=19.74/14</text>
<clipPath id="clip2"><rect x="466.6" y="0.5" width="279.6" height="289.5"/></clipPath>
<path d="M605.7 397.4h0M607.4 390.9h0M609.1 384.3h0M610.8 377.7h0M612.5 371.2h0M614.3 364.6h0M616.1 358.1h0M617.8 351.5h0M619.6 345.0h0M621.5 338.5h0M623.3 332.0h0M625.2 325.5h0M627.1 319.0h0M629.0 312.5h0M630.9 306.0h0M632.8 299.6h0M634.8 293.1h0M636.9 286.7h0M639.0 280.4h0M641.2 274.0h0M643.4 267.7h0M645.6 261.4h0M647.8 255.0h0M650.1 248.7h0M652.4 242.4h0M654.6 236.1h0M656.9 229.9h0M659.2 223.6h0M661.6 217.3h0M663.8 211.0h0M666.0 204.7h0M668.2 198.3h0M670.4 192.0h0M672.7 185.7h0M674.9 179.4h0M677.1 173.1h0M679.4 166.8h0M681.7 160.5h0M683.9 154.2h0M686.2 147.9h0M688.5 141.6h0M690.8 135.3h0M693.1 129.0h0M695.4 122.7h0M697.7 116.5h0M700.0 110.2h0M702.3 103.9h0M704.6 97.6h0M706.9 91.4h0M709.2 85.1h0M711.5 78.8h0M713.8 72.6h0M716.2 66.3h0M718.5 60.0h0M720.8 53.7h0M723.1 47.5h0M725.4 41.2h0M727.8 34.9h0M730.1 28.7h0M732.4 22.4h0M734.7 16.1h0M737.0 9.9h0M739.3 3.6h0M741.7 -2.7h0M744.0 -8.9h0M746.3 -15.2h0M748.6 -21.5h0M750.9 -27.8h0M753.3 -34.0h0M755.6 -40.3h0" fill="none" stroke="#000" stroke-width="2.5" stroke-linecap="round" clip-path="url(#clip2)"/>
<polyline points="532.45,398.39 534.05,392.30 535.66,386.32 537.26,380.43 538.87,374.64 540.48,368.94 542.08,363.34 543.69,357.84 545.29,352.44 546.90,347.13 548.51,341.91 550.11,336.79 551.72,331.77 553.32,326.84 554.93,322.00 556.54,317.26 558.14,312.61 559.75,308.05 561.35,303.59 562.96,299.22 564.57,294.94 566.17,290.75 567.78,286.65 569.38,282.64 570.99,278.72 572.60,274.89 574.20,271.15 575.81,267.49 577.41,263.93 579.02,260.45 580.63,257.06 582.23,253.75 583.84,250.53 585.44,247.39 587.05,244.33 588.66,241.36 590.26,238.47 591.87,235.66 593.47,232.93 595.08,230.29 596.69,227.72 598.29,225.23 599.90,222.81 601.50,220.47 603.11,218.21 604.72,216.02 606.32,213.91 607.93,211.87 609.53,209.90 611.14,208.00 612.75,206.16 614.35,204.40 615.96,202.70 617.56,201.07 619.17,199.51 620.78,198.00 622.38,196.56 623.99,195.18 625.59,193.86 627.20,192.60 628.81,191.40 630.41,190.25 632.02,189.15 633.62,188.11 635.23,187.12 636.84,186.17 638.44,185.28 640.05,184.44 641.65,183.63 643.26,182.88 644.87,182.16 646.47,181.49 648.08,180.85 649.68,180.26 651.29,179.70 652.90,179.17 654.50,178.68 656.11,178.22 657.71,177.80 659.32,177.40 660.93,177.03 662.53,176.68 664.14,176.36 665.74,176.07 667.35,175.79 668.96,175.54 670.56,175.31 672.17,175.10 673.77,174.90 675.38,174.72 676.99,174.56 678.59,174.41 680.20,174.27 681.80,174.15 683.41,174.03 685.02,173.93 686.62,173.84 688.23,173.76 689.83,173.68 691.44,173.61 693.05,173.55 694.65,173.50 696.26,173.45 697.86,173.41 699.47,173.37 701.08,173.34 702.68,173.31 704.29,173.28 705.89,173.26 707.50,173.24 709.11,173.22 710.71,173.20 712.32,173.19 713.92,173.17 715.53,173.16 717.14,173.16 718.74,173.15 720.35,173.14 721.95,173.13 723.56,173.13 725.17,173.12 726.77,173.12 728.38,173.12 729.98,173.11 731.59,173.11 733.20,173.11 734.80,173.11 736.41,173.11 738.01,173.11 739.62,173.11 741.23,173.10 742.83,173.10 744.44,173.10 746.04,173.10 747.65,173.10 749.26,173.10 750.86,173.10 752.47,173.10 754.07,173.10 755.68,173.10" fill="none" stroke="#000" stroke-width="2.1" stroke-linejoin="round" stroke-linecap="butt" stroke-dasharray="14 5" clip-path="url(#clip2)"/>
<polyline points="532.45,398.37 534.05,392.28 535.66,386.29 537.26,380.40 538.87,374.60 540.48,368.91 542.08,363.30 543.69,357.80 545.29,352.39 546.90,347.08 548.51,341.86 550.11,336.73 551.72,331.70 553.32,326.77 554.93,321.92 556.54,317.17 558.14,312.52 559.75,307.95 561.35,303.48 562.96,299.10 564.57,294.81 566.17,290.60 567.78,286.49 569.38,282.47 570.99,278.54 572.60,274.69 574.20,270.93 575.81,267.26 577.41,263.67 579.02,260.17 580.63,256.75 582.23,253.42 583.84,250.16 585.44,246.99 587.05,243.90 588.66,240.89 590.26,237.96 591.87,235.11 593.47,232.33 595.08,229.63 596.69,227.00 598.29,224.45 599.90,221.97 601.50,219.55 603.11,217.21 604.72,214.93 606.32,212.72 607.93,210.58 609.53,208.49 611.14,206.47 612.75,204.50 614.35,202.59 615.96,200.74 617.56,198.93 619.17,197.18 620.78,195.48 622.38,193.82 623.99,192.20 625.59,190.62 627.20,189.08 628.81,187.57 630.41,186.09 632.02,184.64 633.62,183.21 635.23,181.81 636.84,180.42 638.44,179.04 640.05,177.67 641.65,176.31 643.26,174.94 644.87,173.58 646.47,172.20 648.08,170.82 649.68,169.41 651.29,167.99 652.90,166.54 654.50,165.06 656.11,163.54 657.71,161.99 659.32,160.39 660.93,158.75 662.53,157.05 664.14,155.30 665.74,153.49 667.35,151.61 668.96,149.67 670.56,147.66 672.17,145.58 673.77,143.42 675.38,141.19 676.99,138.88 678.59,136.49 680.20,134.02 681.80,131.48 683.41,128.85 685.02,126.15 686.62,123.36 688.23,120.50 689.83,117.56 691.44,114.55 693.05,111.47 694.65,108.31 696.26,105.09 697.86,101.80 699.47,98.45 701.08,95.03 702.68,91.56 704.29,88.03 705.89,84.45 707.50,80.82 709.11,77.14 710.71,73.41 712.32,69.64 713.92,65.83 715.53,61.99 717.14,58.11 718.74,54.19 720.35,50.25 721.95,46.27 723.56,42.27 725.17,38.24 726.77,34.19 728.38,30.12 729.98,26.03 731.59,21.91 733.20,17.78 734.80,13.64 736.41,9.48 738.01,5.30 739.62,1.11 741.23,-3.08 742.83,-7.30 744.44,-11.52 746.04,-15.75 747.65,-19.99 749.26,-24.23 750.86,-28.49 752.47,-32.75 754.07,-37.01 755.68,-41.29" fill="none" stroke="#000" stroke-width="2.1" stroke-linejoin="round" stroke-linecap="butt" clip-path="url(#clip2)"/>
<path d="M586.5 397.2h0M588.2 390.7h0M590.0 384.1h0M591.8 377.6h0M593.6 371.1h0M595.4 364.6h0M597.3 358.1h0M599.2 351.6h0M601.1 345.1h0M603.0 338.7h0M605.0 332.2h0M607.0 325.8h0M609.0 319.3h0M611.0 312.9h0M613.1 306.5h0M615.2 300.1h0M617.3 293.8h0M619.5 287.4h0M621.9 281.2h0M624.2 274.9h0M626.6 268.7h0M629.0 262.5h0M631.4 256.3h0M633.9 250.1h0M636.3 243.9h0M638.8 237.7h0M641.3 231.5h0M643.8 225.4h0M646.4 219.3h0M648.9 213.1h0M651.3 206.9h0M653.8 200.7h0M656.2 194.5h0M658.7 188.3h0M661.1 182.2h0M663.6 176.0h0M666.1 169.8h0M668.6 163.7h0M671.1 157.5h0M673.6 151.4h0M676.2 145.2h0M678.7 139.1h0M681.2 132.9h0M683.7 126.8h0M686.3 120.6h0M688.8 114.5h0M691.3 108.4h0M693.9 102.2h0M696.4 96.1h0M699.0 90.0h0M701.5 83.8h0M704.0 77.7h0M706.6 71.6h0M709.1 65.4h0M711.7 59.3h0M714.2 53.2h0M716.8 47.0h0M719.3 40.9h0M721.9 34.8h0M724.4 28.6h0M726.9 22.5h0M729.5 16.4h0M732.0 10.2h0M734.6 4.1h0M737.1 -2.0h0M739.7 -8.2h0M742.2 -14.3h0M744.8 -20.4h0M747.3 -26.6h0M749.9 -32.7h0M752.4 -38.8h0M754.9 -44.9h0" fill="none" stroke="#f00" stroke-width="2.5" stroke-linecap="round" clip-path="url(#clip2)"/>
<polyline points="516.39,399.86 517.99,393.52 519.60,387.28 521.20,381.14 522.81,375.12 524.42,369.19 526.02,363.37 527.63,357.66 529.23,352.04 530.84,346.53 532.45,341.13 534.05,335.83 535.66,330.62 537.26,325.53 538.87,320.53 540.48,315.63 542.08,310.84 543.69,306.14 545.29,301.54 546.90,297.05 548.51,292.65 550.11,288.35 551.72,284.14 553.32,280.04 554.93,276.03 556.54,272.11 558.14,268.30 559.75,264.57 561.35,260.94 562.96,257.40 564.57,253.96 566.17,250.61 567.78,247.35 569.38,244.17 570.99,241.09 572.60,238.10 574.20,235.19 575.81,232.37 577.41,229.64 579.02,226.99 580.63,224.43 582.23,221.95 583.84,219.55 585.44,217.23 587.05,214.99 588.66,212.83 590.26,210.75 591.87,208.75 593.47,206.82 595.08,204.96 596.69,203.18 598.29,201.46 599.90,199.82 601.50,198.25 603.11,196.74 604.72,195.30 606.32,193.92 607.93,192.61 609.53,191.36 611.14,190.17 612.75,189.03 614.35,187.96 615.96,186.94 617.56,185.97 619.17,185.05 620.78,184.19 622.38,183.37 623.99,182.60 625.59,181.87 627.20,181.19 628.81,180.55 630.41,179.95 632.02,179.39 633.62,178.87 635.23,178.38 636.84,177.92 638.44,177.50 640.05,177.11 641.65,176.74 643.26,176.41 644.87,176.10 646.47,175.81 648.08,175.55 649.68,175.31 651.29,175.08 652.90,174.88 654.50,174.70 656.11,174.53 657.71,174.38 659.32,174.24 660.93,174.11 662.53,174.00 664.14,173.90 665.74,173.80 667.35,173.72 668.96,173.65 670.56,173.58 672.17,173.52 673.77,173.47 675.38,173.42 676.99,173.38 678.59,173.35 680.20,173.31 681.80,173.28 683.41,173.26 685.02,173.24 686.62,173.22 688.23,173.20 689.83,173.19 691.44,173.17 693.05,173.16 694.65,173.15 696.26,173.15 697.86,173.14 699.47,173.13 701.08,173.13 702.68,173.12 704.29,173.12 705.89,173.12 707.50,173.11 709.11,173.11 710.71,173.11 712.32,173.11 713.92,173.11 715.53,173.11 717.14,173.10 718.74,173.10 720.35,173.10 721.95,173.10 723.56,173.10 725.17,173.10 726.77,173.10 728.38,173.10 729.98,173.10 731.59,173.10 733.20,173.10 734.80,173.10 736.41,173.10 738.01,173.10 739.62,173.10 741.23,173.10 742.83,173.10 744.44,173.10 746.04,173.10 747.65,173.10 749.26,173.10 750.86,173.10 752.47,173.10 754.07,173.10 755.68,173.10" fill="none" stroke="#f00" stroke-width="2.1" stroke-linejoin="round" stroke-linecap="butt" stroke-dasharray="14 5" clip-path="url(#clip2)"/>
<polyline points="516.39,399.83 517.99,393.48 519.60,387.24 521.20,381.10 522.81,375.07 524.42,369.14 526.02,363.32 527.63,357.59 529.23,351.98 530.84,346.46 532.45,341.05 534.05,335.74 535.66,330.53 537.26,325.42 538.87,320.42 540.48,315.51 542.08,310.71 543.69,306.00 545.29,301.39 546.90,296.88 548.51,292.47 550.11,288.15 551.72,283.93 553.32,279.81 554.93,275.78 556.54,271.84 558.14,268.00 559.75,264.25 561.35,260.59 562.96,257.03 564.57,253.55 566.17,250.17 567.78,246.87 569.38,243.66 570.99,240.53 572.60,237.49 574.20,234.54 575.81,231.67 577.41,228.87 579.02,226.16 580.63,223.53 582.23,220.98 583.84,218.50 585.44,216.10 587.05,213.77 588.66,211.51 590.26,209.32 591.87,207.21 593.47,205.15 595.08,203.16 596.69,201.24 598.29,199.37 599.90,197.56 601.50,195.81 603.11,194.12 604.72,192.47 606.32,190.87 607.93,189.32 609.53,187.82 611.14,186.35 612.75,184.92 614.35,183.53 615.96,182.17 617.56,180.84 619.17,179.53 620.78,178.25 622.38,176.99 623.99,175.74 625.59,174.50 627.20,173.28 628.81,172.05 630.41,170.83 632.02,169.61 633.62,168.38 635.23,167.14 636.84,165.89 638.44,164.62 640.05,163.33 641.65,162.02 643.26,160.67 644.87,159.30 646.47,157.88 648.08,156.43 649.68,154.94 651.29,153.40 652.90,151.81 654.50,150.18 656.11,148.48 657.71,146.74 659.32,144.93 660.93,143.07 662.53,141.14 664.14,139.15 665.74,137.10 667.35,134.99 668.96,132.80 670.56,130.56 672.17,128.25 673.77,125.87 675.38,123.43 676.99,120.92 678.59,118.36 680.20,115.73 681.80,113.04 683.41,110.29 685.02,107.48 686.62,104.62 688.23,101.71 689.83,98.74 691.44,95.72 693.05,92.65 694.65,89.54 696.26,86.38 697.86,83.18 699.47,79.94 701.08,76.66 702.68,73.35 704.29,70.00 705.89,66.61 707.50,63.20 709.11,59.75 710.71,56.28 712.32,52.78 713.92,49.26 715.53,45.72 717.14,42.15 718.74,38.56 720.35,34.95 721.95,31.33 723.56,27.69 725.17,24.03 726.77,20.36 728.38,16.67 729.98,12.97 731.59,9.26 733.20,5.54 734.80,1.81 736.41,-1.93 738.01,-5.68 739.62,-9.44 741.23,-13.21 742.83,-16.98 744.44,-20.76 746.04,-24.55 747.65,-28.34 749.26,-32.14 750.86,-35.94 752.47,-39.75 754.07,-43.56 755.68,-47.38" fill="none" stroke="#f00" stroke-width="2.1" stroke-linejoin="round" stroke-linecap="butt" clip-path="url(#clip2)"/>
<path d="M570.4 398.3h0M572.1 391.8h0M573.9 385.2h0M575.7 378.7h0M577.5 372.2h0M579.3 365.7h0M581.2 359.2h0M583.1 352.7h0M585.0 346.2h0M587.0 339.8h0M589.0 333.3h0M591.0 326.9h0M593.0 320.5h0M595.1 314.1h0M597.2 307.7h0M599.4 301.3h0M601.6 295.0h0M603.8 288.7h0M606.2 282.5h0M608.6 276.3h0M611.1 270.1h0M613.5 263.9h0M616.0 257.7h0M618.6 251.6h0M621.1 245.4h0M623.7 239.3h0M626.3 233.2h0M628.9 227.1h0M631.5 221.1h0M634.1 215.0h0M636.7 208.9h0M639.2 202.7h0M641.8 196.6h0M644.3 190.5h0M646.9 184.4h0M649.5 178.2h0M652.1 172.1h0M654.7 166.0h0M657.3 159.9h0M659.9 153.9h0M662.5 147.8h0M665.1 141.7h0M667.7 135.6h0M670.4 129.5h0M673.0 123.4h0M675.6 117.4h0M678.2 111.3h0M680.9 105.2h0M683.5 99.1h0M686.1 93.1h0M688.8 87.0h0M691.4 80.9h0M694.0 74.8h0M696.7 68.8h0M699.3 62.7h0M701.9 56.6h0M704.6 50.5h0M707.2 44.5h0M709.8 38.4h0M712.5 32.3h0M715.1 26.3h0M717.7 20.2h0M720.4 14.1h0M723.0 8.0h0M725.7 2.0h0M728.3 -4.1h0M730.9 -10.2h0M733.6 -16.2h0M736.2 -22.3h0M738.8 -28.4h0M741.5 -34.5h0M744.1 -40.5h0M746.8 -46.6h0M749.4 -52.7h0M752.0 -58.7h0M754.7 -64.8h0" fill="none" stroke="#00f" stroke-width="2.5" stroke-linecap="round" clip-path="url(#clip2)"/>
<polyline points="503.54,395.02 505.14,388.48 506.75,382.06 508.36,375.75 509.96,369.56 511.57,363.48 513.17,357.51 514.78,351.66 516.39,345.92 517.99,340.29 519.60,334.78 521.20,329.37 522.81,324.08 524.42,318.90 526.02,313.82 527.63,308.86 529.23,304.00 530.84,299.26 532.45,294.62 534.05,290.08 535.66,285.66 537.26,281.34 538.87,277.12 540.48,273.01 542.08,269.01 543.69,265.10 545.29,261.30 546.90,257.60 548.51,254.01 550.11,250.51 551.72,247.11 553.32,243.81 554.93,240.60 556.54,237.49 558.14,234.48 559.75,231.56 561.35,228.74 562.96,226.01 564.57,223.37 566.17,220.82 567.78,218.35 569.38,215.98 570.99,213.69 572.60,211.49 574.20,209.37 575.81,207.33 577.41,205.37 579.02,203.49 580.63,201.70 582.23,199.97 583.84,198.33 585.44,196.75 587.05,195.25 588.66,193.82 590.26,192.45 591.87,191.16 593.47,189.92 595.08,188.75 596.69,187.65 598.29,186.60 599.90,185.61 601.50,184.67 603.11,183.79 604.72,182.96 606.32,182.18 607.93,181.45 609.53,180.77 611.14,180.13 612.75,179.53 614.35,178.98 615.96,178.46 617.56,177.98 619.17,177.54 620.78,177.12 622.38,176.74 623.99,176.39 625.59,176.07 627.20,175.78 628.81,175.50 630.41,175.26 632.02,175.03 633.62,174.82 635.23,174.64 636.84,174.47 638.44,174.31 640.05,174.18 641.65,174.05 643.26,173.94 644.87,173.84 646.47,173.75 648.08,173.67 649.68,173.60 651.29,173.53 652.90,173.48 654.50,173.43 656.11,173.38 657.71,173.35 659.32,173.31 660.93,173.28 662.53,173.26 664.14,173.23 665.74,173.22 667.35,173.20 668.96,173.18 670.56,173.17 672.17,173.16 673.77,173.15 675.38,173.14 676.99,173.14 678.59,173.13 680.20,173.13 681.80,173.12 683.41,173.12 685.02,173.11 686.62,173.11 688.23,173.11 689.83,173.11 691.44,173.11 693.05,173.11 694.65,173.10 696.26,173.10 697.86,173.10 699.47,173.10 701.08,173.10 702.68,173.10 704.29,173.10 705.89,173.10 707.50,173.10 709.11,173.10 710.71,173.10 712.32,173.10 713.92,173.10 715.53,173.10 717.14,173.10 718.74,173.10 720.35,173.10 721.95,173.10 723.56,173.10 725.17,173.10 726.77,173.10 728.38,173.10 729.98,173.10 731.59,173.10 733.20,173.10 734.80,173.10 736.41,173.10 738.01,173.10 739.62,173.10 741.23,173.10 742.83,173.10 744.44,173.10 746.04,173.10 747.65,173.10 749.26,173.10 750.86,173.10 752.47,173.10 754.07,173.10 755.68,173.10" fill="none" stroke="#00f" stroke-width="2.1" stroke-linejoin="round" stroke-linecap="butt" stroke-dasharray="14 5" clip-path="url(#clip2)"/>
<polyline points="503.54,395.00 505.14,388.46 506.75,382.03 508.36,375.72 509.96,369.53 511.57,363.44 513.17,357.47 514.78,351.61 516.39,345.87 517.99,340.23 519.60,334.71 521.20,329.30 522.81,323.99 524.42,318.80 526.02,313.72 527.63,308.74 529.23,303.88 530.84,299.12 532.45,294.46 534.05,289.91 535.66,285.47 537.26,281.13 538.87,276.90 540.48,272.77 542.08,268.74 543.69,264.81 545.29,260.99 546.90,257.26 548.51,253.63 550.11,250.10 551.72,246.66 553.32,243.32 554.93,240.08 556.54,236.93 558.14,233.86 559.75,230.90 561.35,228.01 562.96,225.22 564.57,222.52 566.17,219.89 567.78,217.36 569.38,214.90 570.99,212.52 572.60,210.23 574.20,208.01 575.81,205.86 577.41,203.79 579.02,201.78 580.63,199.85 582.23,197.98 583.84,196.18 585.44,194.44 587.05,192.75 588.66,191.13 590.26,189.56 591.87,188.04 593.47,186.57 595.08,185.14 596.69,183.76 598.29,182.42 599.90,181.12 601.50,179.85 603.11,178.61 604.72,177.40 606.32,176.21 607.93,175.05 609.53,173.90 611.14,172.76 612.75,171.64 614.35,170.52 615.96,169.41 617.56,168.29 619.17,167.17 620.78,166.04 622.38,164.90 623.99,163.74 625.59,162.57 627.20,161.37 628.81,160.15 630.41,158.89 632.02,157.61 633.62,156.28 635.23,154.92 636.84,153.52 638.44,152.07 640.05,150.57 641.65,149.03 643.26,147.43 644.87,145.78 646.47,144.07 648.08,142.31 649.68,140.49 651.29,138.60 652.90,136.66 654.50,134.66 656.11,132.59 657.71,130.47 659.32,128.28 660.93,126.03 662.53,123.72 664.14,121.35 665.74,118.92 667.35,116.44 668.96,113.89 670.56,111.29 672.17,108.64 673.77,105.93 675.38,103.18 676.99,100.37 678.59,97.52 680.20,94.62 681.80,91.67 683.41,88.69 685.02,85.66 686.62,82.59 688.23,79.49 689.83,76.35 691.44,73.18 693.05,69.98 694.65,66.74 696.26,63.48 697.86,60.19 699.47,56.88 701.08,53.54 702.68,50.17 704.29,46.79 705.89,43.39 707.50,39.96 709.11,36.52 710.71,33.07 712.32,29.59 713.92,26.11 715.53,22.60 717.14,19.09 718.74,15.56 720.35,12.02 721.95,8.48 723.56,4.92 725.17,1.35 726.77,-2.23 728.38,-5.81 729.98,-9.40 731.59,-13.00 733.20,-16.61 734.80,-20.22 736.41,-23.84 738.01,-27.46 739.62,-31.09 741.23,-34.72 742.83,-38.36 744.44,-42.00 746.04,-45.65 747.65,-49.29 749.26,-52.95 750.86,-56.60 752.47,-60.26 754.07,-63.92 755.68,-67.58" fill="none" stroke="#00f" stroke-width="2.1" stroke-linejoin="round" stroke-linecap="butt" clip-path="url(#clip2)"/>
<rect x="466.6" y="0.5" width="279.6" height="289.5" fill="none" stroke="#000" stroke-width="1.7"/>
<line x1="466.60" y1="290.00" x2="466.60" y2="279.00" stroke="#000" stroke-width="1.7" />
<line x1="466.60" y1="0.50" x2="466.60" y2="11.50" stroke="#000" stroke-width="1.7" />
<line x1="546.90" y1="290.00" x2="546.90" y2="279.00" stroke="#000" stroke-width="1.7" />
<line x1="546.90" y1="0.50" x2="546.90" y2="11.50" stroke="#000" stroke-width="1.7" />
<line x1="627.20" y1="290.00" x2="627.20" y2="279.00" stroke="#000" stroke-width="1.7" />
<line x1="627.20" y1="0.50" x2="627.20" y2="11.50" stroke="#000" stroke-width="1.7" />
<line x1="707.50" y1="290.00" x2="707.50" y2="279.00" stroke="#000" stroke-width="1.7" />
<line x1="707.50" y1="0.50" x2="707.50" y2="11.50" stroke="#000" stroke-width="1.7" />
<line x1="490.77" y1="290.00" x2="490.77" y2="284.50" stroke="#000" stroke-width="1.7" />
<line x1="490.77" y1="0.50" x2="490.77" y2="6.00" stroke="#000" stroke-width="1.7" />
<line x1="504.91" y1="290.00" x2="504.91" y2="284.50" stroke="#000" stroke-width="1.7" />
<line x1="504.91" y1="0.50" x2="504.91" y2="6.00" stroke="#000" stroke-width="1.7" />
<line x1="514.95" y1="290.00" x2="514.95" y2="284.50" stroke="#000" stroke-width="1.7" />
<line x1="514.95" y1="0.50" x2="514.95" y2="6.00" stroke="#000" stroke-width="1.7" />
<line x1="522.73" y1="290.00" x2="522.73" y2="284.50" stroke="#000" stroke-width="1.7" />
<line x1="522.73" y1="0.50" x2="522.73" y2="6.00" stroke="#000" stroke-width="1.7" />
<line x1="529.09" y1="290.00" x2="529.09" y2="284.50" stroke="#000" stroke-width="1.7" />
<line x1="529.09" y1="0.50" x2="529.09" y2="6.00" stroke="#000" stroke-width="1.7" />
<line x1="534.46" y1="290.00" x2="534.46" y2="284.50" stroke="#000" stroke-width="1.7" />
<line x1="534.46" y1="0.50" x2="534.46" y2="6.00" stroke="#000" stroke-width="1.7" />
<line x1="539.12" y1="290.00" x2="539.12" y2="284.50" stroke="#000" stroke-width="1.7" />
<line x1="539.12" y1="0.50" x2="539.12" y2="6.00" stroke="#000" stroke-width="1.7" />
<line x1="543.23" y1="290.00" x2="543.23" y2="284.50" stroke="#000" stroke-width="1.7" />
<line x1="543.23" y1="0.50" x2="543.23" y2="6.00" stroke="#000" stroke-width="1.7" />
<line x1="571.07" y1="290.00" x2="571.07" y2="284.50" stroke="#000" stroke-width="1.7" />
<line x1="571.07" y1="0.50" x2="571.07" y2="6.00" stroke="#000" stroke-width="1.7" />
<line x1="585.21" y1="290.00" x2="585.21" y2="284.50" stroke="#000" stroke-width="1.7" />
<line x1="585.21" y1="0.50" x2="585.21" y2="6.00" stroke="#000" stroke-width="1.7" />
<line x1="595.25" y1="290.00" x2="595.25" y2="284.50" stroke="#000" stroke-width="1.7" />
<line x1="595.25" y1="0.50" x2="595.25" y2="6.00" stroke="#000" stroke-width="1.7" />
<line x1="603.03" y1="290.00" x2="603.03" y2="284.50" stroke="#000" stroke-width="1.7" />
<line x1="603.03" y1="0.50" x2="603.03" y2="6.00" stroke="#000" stroke-width="1.7" />
<line x1="609.39" y1="290.00" x2="609.39" y2="284.50" stroke="#000" stroke-width="1.7" />
<line x1="609.39" y1="0.50" x2="609.39" y2="6.00" stroke="#000" stroke-width="1.7" />
<line x1="614.76" y1="290.00" x2="614.76" y2="284.50" stroke="#000" stroke-width="1.7" />
<line x1="614.76" y1="0.50" x2="614.76" y2="6.00" stroke="#000" stroke-width="1.7" />
<line x1="619.42" y1="290.00" x2="619.42" y2="284.50" stroke="#000" stroke-width="1.7" />
<line x1="619.42" y1="0.50" x2="619.42" y2="6.00" stroke="#000" stroke-width="1.7" />
<line x1="623.53" y1="290.00" x2="623.53" y2="284.50" stroke="#000" stroke-width="1.7" />
<line x1="623.53" y1="0.50" x2="623.53" y2="6.00" stroke="#000" stroke-width="1.7" />
<line x1="651.37" y1="290.00" x2="651.37" y2="284.50" stroke="#000" stroke-width="1.7" />
<line x1="651.37" y1="0.50" x2="651.37" y2="6.00" stroke="#000" stroke-width="1.7" />
<line x1="665.51" y1="290.00" x2="665.51" y2="284.50" stroke="#000" stroke-width="1.7" />
<line x1="665.51" y1="0.50" x2="665.51" y2="6.00" stroke="#000" stroke-width="1.7" />
<line x1="675.55" y1="290.00" x2="675.55" y2="284.50" stroke="#000" stroke-width="1.7" />
<line x1="675.55" y1="0.50" x2="675.55" y2="6.00" stroke="#000" stroke-width="1.7" />
<line x1="683.33" y1="290.00" x2="683.33" y2="284.50" stroke="#000" stroke-width="1.7" />
<line x1="683.33" y1="0.50" x2="683.33" y2="6.00" stroke="#000" stroke-width="1.7" />
<line x1="689.69" y1="290.00" x2="689.69" y2="284.50" stroke="#000" stroke-width="1.7" />
<line x1="689.69" y1="0.50" x2="689.69" y2="6.00" stroke="#000" stroke-width="1.7" />
<line x1="695.06" y1="290.00" x2="695.06" y2="284.50" stroke="#000" stroke-width="1.7" />
<line x1="695.06" y1="0.50" x2="695.06" y2="6.00" stroke="#000" stroke-width="1.7" />
<line x1="699.72" y1="290.00" x2="699.72" y2="284.50" stroke="#000" stroke-width="1.7" />
<line x1="699.72" y1="0.50" x2="699.72" y2="6.00" stroke="#000" stroke-width="1.7" />
<line x1="703.83" y1="290.00" x2="703.83" y2="284.50" stroke="#000" stroke-width="1.7" />
<line x1="703.83" y1="0.50" x2="703.83" y2="6.00" stroke="#000" stroke-width="1.7" />
<line x1="731.67" y1="290.00" x2="731.67" y2="284.50" stroke="#000" stroke-width="1.7" />
<line x1="731.67" y1="0.50" x2="731.67" y2="6.00" stroke="#000" stroke-width="1.7" />
<line x1="745.81" y1="290.00" x2="745.81" y2="284.50" stroke="#000" stroke-width="1.7" />
<line x1="745.81" y1="0.50" x2="745.81" y2="6.00" stroke="#000" stroke-width="1.7" />
<line x1="466.60" y1="289.90" x2="477.60" y2="289.90" stroke="#000" stroke-width="1.7" />
<line x1="746.20" y1="289.90" x2="735.20" y2="289.90" stroke="#000" stroke-width="1.7" />
<line x1="466.60" y1="173.10" x2="477.60" y2="173.10" stroke="#000" stroke-width="1.7" />
<line x1="746.20" y1="173.10" x2="735.20" y2="173.10" stroke="#000" stroke-width="1.7" />
<line x1="466.60" y1="56.30" x2="477.60" y2="56.30" stroke="#000" stroke-width="1.7" />
<line x1="746.20" y1="56.30" x2="735.20" y2="56.30" stroke="#000" stroke-width="1.7" />
<line x1="466.60" y1="254.74" x2="472.10" y2="254.74" stroke="#000" stroke-width="1.7" />
<line x1="746.20" y1="254.74" x2="740.70" y2="254.74" stroke="#000" stroke-width="1.7" />
<line x1="466.60" y1="234.17" x2="472.10" y2="234.17" stroke="#000" stroke-width="1.7" />
<line x1="746.20" y1="234.17" x2="740.70" y2="234.17" stroke="#000" stroke-width="1.7" />
<line x1="466.60" y1="219.58" x2="472.10" y2="219.58" stroke="#000" stroke-width="1.7" />
<line x1="746.20" y1="219.58" x2="740.70" y2="219.58" stroke="#000" stroke-width="1.7" />
<line x1="466.60" y1="208.26" x2="472.10" y2="208.26" stroke="#000" stroke-width="1.7" />
<line x1="746.20" y1="208.26" x2="740.70" y2="208.26" stroke="#000" stroke-width="1.7" />
<line x1="466.60" y1="199.01" x2="472.10" y2="199.01" stroke="#000" stroke-width="1.7" />
<line x1="746.20" y1="199.01" x2="740.70" y2="199.01" stroke="#000" stroke-width="1.7" />
<line x1="466.60" y1="191.19" x2="472.10" y2="191.19" stroke="#000" stroke-width="1.7" />
<line x1="746.20" y1="191.19" x2="740.70" y2="191.19" stroke="#000" stroke-width="1.7" />
<line x1="466.60" y1="184.42" x2="472.10" y2="184.42" stroke="#000" stroke-width="1.7" />
<line x1="746.20" y1="184.42" x2="740.70" y2="184.42" stroke="#000" stroke-width="1.7" />
<line x1="466.60" y1="178.44" x2="472.10" y2="178.44" stroke="#000" stroke-width="1.7" />
<line x1="746.20" y1="178.44" x2="740.70" y2="178.44" stroke="#000" stroke-width="1.7" />
<line x1="466.60" y1="137.94" x2="472.10" y2="137.94" stroke="#000" stroke-width="1.7" />
<line x1="746.20" y1="137.94" x2="740.70" y2="137.94" stroke="#000" stroke-width="1.7" />
<line x1="466.60" y1="117.37" x2="472.10" y2="117.37" stroke="#000" stroke-width="1.7" />
<line x1="746.20" y1="117.37" x2="740.70" y2="117.37" stroke="#000" stroke-width="1.7" />
<line x1="466.60" y1="102.78" x2="472.10" y2="102.78" stroke="#000" stroke-width="1.7" />
<line x1="746.20" y1="102.78" x2="740.70" y2="102.78" stroke="#000" stroke-width="1.7" />
<line x1="466.60" y1="91.46" x2="472.10" y2="91.46" stroke="#000" stroke-width="1.7" />
<line x1="746.20" y1="91.46" x2="740.70" y2="91.46" stroke="#000" stroke-width="1.7" />
<line x1="466.60" y1="82.21" x2="472.10" y2="82.21" stroke="#000" stroke-width="1.7" />
<line x1="746.20" y1="82.21" x2="740.70" y2="82.21" stroke="#000" stroke-width="1.7" />
<line x1="466.60" y1="74.39" x2="472.10" y2="74.39" stroke="#000" stroke-width="1.7" />
<line x1="746.20" y1="74.39" x2="740.70" y2="74.39" stroke="#000" stroke-width="1.7" />
<line x1="466.60" y1="67.62" x2="472.10" y2="67.62" stroke="#000" stroke-width="1.7" />
<line x1="746.20" y1="67.62" x2="740.70" y2="67.62" stroke="#000" stroke-width="1.7" />
<line x1="466.60" y1="61.64" x2="472.10" y2="61.64" stroke="#000" stroke-width="1.7" />
<line x1="746.20" y1="61.64" x2="740.70" y2="61.64" stroke="#000" stroke-width="1.7" />
<line x1="466.60" y1="21.14" x2="472.10" y2="21.14" stroke="#000" stroke-width="1.7" />
<line x1="746.20" y1="21.14" x2="740.70" y2="21.14" stroke="#000" stroke-width="1.7" />
<line x1="466.60" y1="0.57" x2="472.10" y2="0.57" stroke="#000" stroke-width="1.7" />
<line x1="746.20" y1="0.57" x2="740.70" y2="0.57" stroke="#000" stroke-width="1.7" />
<text x="0" y="0" transform="translate(471.40 312.90)" text-anchor="end" fill="#000" style="font-family:'Liberation Sans',sans-serif;font-size:17px;font-weight:normal;letter-spacing:0.9px;"  stroke="#000" stroke-width="0.3">10</text>
<text x="0" y="0" transform="translate(472.00 308.00)" text-anchor="start" fill="#000" style="font-family:'Liberation Sans',sans-serif;font-size:10.5px;font-weight:bold;letter-spacing:0.3px;" >12</text>
<text x="0" y="0" transform="translate(551.70 312.90)" text-anchor="end" fill="#000" style="font-family:'Liberation Sans',sans-serif;font-size:17px;font-weight:normal;letter-spacing:0.9px;"  stroke="#000" stroke-width="0.3">10</text>
<text x="0" y="0" transform="translate(552.30 308.00)" text-anchor="start" fill="#000" style="font-family:'Liberation Sans',sans-serif;font-size:10.5px;font-weight:bold;letter-spacing:0.3px;" >13</text>
<text x="0" y="0" transform="translate(632.00 312.90)" text-anchor="end" fill="#000" style="font-family:'Liberation Sans',sans-serif;font-size:17px;font-weight:normal;letter-spacing:0.9px;"  stroke="#000" stroke-width="0.3">10</text>
<text x="0" y="0" transform="translate(632.60 308.00)" text-anchor="start" fill="#000" style="font-family:'Liberation Sans',sans-serif;font-size:10.5px;font-weight:bold;letter-spacing:0.3px;" >14</text>
<text x="0" y="0" transform="translate(712.30 312.90)" text-anchor="end" fill="#000" style="font-family:'Liberation Sans',sans-serif;font-size:17px;font-weight:normal;letter-spacing:0.9px;"  stroke="#000" stroke-width="0.3">10</text>
<text x="0" y="0" transform="translate(712.90 308.00)" text-anchor="start" fill="#000" style="font-family:'Liberation Sans',sans-serif;font-size:10.5px;font-weight:bold;letter-spacing:0.3px;" >15</text>
<text x="0" y="0" transform="translate(457.30 296.60)" text-anchor="end" fill="#000" style="font-family:'Liberation Sans',sans-serif;font-size:17px;font-weight:normal;letter-spacing:0.9px;"  stroke="#000" stroke-width="0.3">0.1</text>
<text x="0" y="0" transform="translate(447.84 179.20) scale(0.8485 1)" fill="#000" style="font-family:'Liberation Serif',serif;font-size:18.5px;font-weight:normal;letter-spacing:0.0px;" stroke="#000" stroke-width="0.35">1</text>
<text x="0" y="0" transform="translate(436.54 62.50) scale(1.0381 1)" fill="#000" style="font-family:'Liberation Serif',serif;font-size:18.5px;font-weight:normal;letter-spacing:0.8px;" stroke="#000" stroke-width="0.35">10</text>
<text x="0" y="0" transform="translate(552.22 341.80) scale(0.7979 1)" fill="#000" style="font-family:'Liberation Serif',serif;font-size:22.5px;font-weight:normal;letter-spacing:0.0px;" stroke="#000" stroke-width="0.18">M</text>
<text x="0" y="0" transform="translate(580.58 341.80) scale(1.1281 1)" fill="#000" style="font-family:'Liberation Serif',serif;font-size:22.5px;font-weight:normal;letter-spacing:1.2px;" stroke="#000" stroke-width="0.18">(h</text>
<text x="0" y="0" transform="translate(604.76 336.60) scale(1.0994 1)" fill="#000" style="font-family:'Liberation Sans',sans-serif;font-size:12px;font-weight:bold;letter-spacing:1.0px;" stroke="#000" stroke-width="0.18">−1</text>
<text x="0" y="0" transform="translate(622.92 341.80) scale(0.7979 1)" fill="#000" style="font-family:'Liberation Serif',serif;font-size:22.5px;font-weight:normal;letter-spacing:0.0px;" stroke="#000" stroke-width="0.18">M</text>
<circle cx="646.2" cy="344.50" r="4.5" fill="none" stroke="#000" stroke-width="1.3"/><circle cx="646.2" cy="344.50" r="1.2" fill="#000"/>
<text x="0" y="0" transform="translate(651.64 341.80) scale(1.2500 1)" fill="#000" style="font-family:'Liberation Serif',serif;font-size:22.5px;font-weight:normal;letter-spacing:0.0px;" stroke="#000" stroke-width="0.18">)</text>
<polyline points="395.6,174.3 406.8,179.4 418.0,174.3" fill="none" stroke="#000" stroke-width="1.5" stroke-linejoin="miter"/>
<polyline points="395.6,116.4 406.8,111.2 418.0,116.4" fill="none" stroke="#000" stroke-width="1.5" stroke-linejoin="miter"/>
<text x="0" y="0" transform="translate(413.40 170.86) rotate(-90) scale(0.9328 1)" fill="#000" style="font-family:'Liberation Serif',serif;font-size:22.5px;font-weight:normal;letter-spacing:1.0px;" stroke="#000" stroke-width="0.18">N(M)</text>
<polyline points="480.70,29.30 536.40,29.30" fill="none" stroke="#000" stroke-width="1.25" stroke-linejoin="round" stroke-linecap="butt"/>
<text x="0" y="0" transform="translate(542.40 35.90) scale(0.85 1)" text-anchor="start" fill="#000" style="font-family:'Liberation Serif',serif;font-size:19px;font-weight:normal;letter-spacing:1.0px;" >All</text>
<polyline points="480.70,58.20 536.40,58.20" fill="none" stroke="#000" stroke-width="1.25" stroke-linejoin="round" stroke-linecap="butt" stroke-dasharray="14 7"/>
<text x="0" y="0" transform="translate(542.40 64.80) scale(1.01 1)" text-anchor="start" fill="#000" style="font-family:'Liberation Serif',serif;font-size:19px;font-weight:normal;letter-spacing:1.0px;" >Cen</text>
<polyline points="480.70,87.40 536.40,87.40" fill="none" stroke="#000" stroke-width="1.5" stroke-linejoin="round" stroke-linecap="round" stroke-dasharray="0.1 4.55"/>
<text x="0" y="0" transform="translate(542.40 94.00) scale(1.09 1)" text-anchor="start" fill="#000" style="font-family:'Liberation Serif',serif;font-size:19px;font-weight:normal;letter-spacing:1.0px;" >Sat</text>
<clipPath id="clip3"><rect x="82.7" y="374.4" width="280.2" height="290.1"/></clipPath>
<polyline points="112.40,663.80 120.70,661.10 127.00,650.70 134.20,627.90 138.40,603.00 142.50,561.50 145.60,540.00 147.30,520.00 151.50,464.70 155.40,417.00 159.10,402.40 162.70,395.20 166.40,408.70 170.10,429.40 174.10,464.70 177.50,513.00 181.90,555.30 186.10,590.50 190.20,615.40 194.40,634.10 198.50,646.60 202.70,656.90 207.90,662.10 214.10,663.80" fill="none" stroke="#000" stroke-width="1.5" stroke-linejoin="miter" stroke-linecap="butt" clip-path="url(#clip3)"/>
<polyline points="153.50,663.80 162.20,662.70 173.70,656.90 183.00,642.40 187.10,623.70 191.30,596.80 195.40,561.50 200.00,520.00 202.70,487.50 206.80,441.90 215.60,419.00 219.90,423.80 224.50,454.30 228.60,487.50 231.30,520.00 235.70,557.30 240.90,590.50 245.00,615.40 249.00,636.20 253.20,648.60 258.40,656.90 263.60,661.50 268.80,663.60 273.90,663.80" fill="none" stroke="#f00" stroke-width="1.5" stroke-linejoin="miter" stroke-linecap="butt" clip-path="url(#clip3)"/>
<polyline points="215.10,663.80 224.50,662.70 231.40,659.40 236.70,655.90 240.70,648.60 245.90,632.00 250.10,607.10 255.30,576.00 259.40,542.80 263.60,520.70 267.70,477.10 272.30,450.20 276.60,420.70 281.20,426.30 285.40,450.20 289.90,473.00 294.70,508.30 298.80,561.50 303.00,594.70 307.10,619.60 312.30,637.20 320.60,654.90 325.80,660.00 334.10,663.20 342.40,663.80" fill="none" stroke="#00f" stroke-width="1.5" stroke-linejoin="miter" stroke-linecap="butt" clip-path="url(#clip3)"/>
<rect x="82.7" y="374.4" width="280.2" height="290.1" fill="none" stroke="#000" stroke-width="1.7"/>
<line x1="122.73" y1="664.50" x2="122.73" y2="653.50" stroke="#000" stroke-width="1.7" />
<line x1="122.73" y1="374.40" x2="122.73" y2="385.40" stroke="#000" stroke-width="1.7" />
<line x1="202.79" y1="664.50" x2="202.79" y2="653.50" stroke="#000" stroke-width="1.7" />
<line x1="202.79" y1="374.40" x2="202.79" y2="385.40" stroke="#000" stroke-width="1.7" />
<line x1="282.85" y1="664.50" x2="282.85" y2="653.50" stroke="#000" stroke-width="1.7" />
<line x1="282.85" y1="374.40" x2="282.85" y2="385.40" stroke="#000" stroke-width="1.7" />
<line x1="362.91" y1="664.50" x2="362.91" y2="653.50" stroke="#000" stroke-width="1.7" />
<line x1="362.91" y1="374.40" x2="362.91" y2="385.40" stroke="#000" stroke-width="1.7" />
<line x1="82.70" y1="664.50" x2="82.70" y2="659.00" stroke="#000" stroke-width="1.7" />
<line x1="82.70" y1="374.40" x2="82.70" y2="379.90" stroke="#000" stroke-width="1.7" />
<line x1="102.71" y1="664.50" x2="102.71" y2="659.00" stroke="#000" stroke-width="1.7" />
<line x1="102.71" y1="374.40" x2="102.71" y2="379.90" stroke="#000" stroke-width="1.7" />
<line x1="122.73" y1="664.50" x2="122.73" y2="659.00" stroke="#000" stroke-width="1.7" />
<line x1="122.73" y1="374.40" x2="122.73" y2="379.90" stroke="#000" stroke-width="1.7" />
<line x1="142.75" y1="664.50" x2="142.75" y2="659.00" stroke="#000" stroke-width="1.7" />
<line x1="142.75" y1="374.40" x2="142.75" y2="379.90" stroke="#000" stroke-width="1.7" />
<line x1="162.76" y1="664.50" x2="162.76" y2="659.00" stroke="#000" stroke-width="1.7" />
<line x1="162.76" y1="374.40" x2="162.76" y2="379.90" stroke="#000" stroke-width="1.7" />
<line x1="182.78" y1="664.50" x2="182.78" y2="659.00" stroke="#000" stroke-width="1.7" />
<line x1="182.78" y1="374.40" x2="182.78" y2="379.90" stroke="#000" stroke-width="1.7" />
<line x1="202.79" y1="664.50" x2="202.79" y2="659.00" stroke="#000" stroke-width="1.7" />
<line x1="202.79" y1="374.40" x2="202.79" y2="379.90" stroke="#000" stroke-width="1.7" />
<line x1="222.81" y1="664.50" x2="222.81" y2="659.00" stroke="#000" stroke-width="1.7" />
<line x1="222.81" y1="374.40" x2="222.81" y2="379.90" stroke="#000" stroke-width="1.7" />
<line x1="242.82" y1="664.50" x2="242.82" y2="659.00" stroke="#000" stroke-width="1.7" />
<line x1="242.82" y1="374.40" x2="242.82" y2="379.90" stroke="#000" stroke-width="1.7" />
<line x1="262.83" y1="664.50" x2="262.83" y2="659.00" stroke="#000" stroke-width="1.7" />
<line x1="262.83" y1="374.40" x2="262.83" y2="379.90" stroke="#000" stroke-width="1.7" />
<line x1="282.85" y1="664.50" x2="282.85" y2="659.00" stroke="#000" stroke-width="1.7" />
<line x1="282.85" y1="374.40" x2="282.85" y2="379.90" stroke="#000" stroke-width="1.7" />
<line x1="302.86" y1="664.50" x2="302.86" y2="659.00" stroke="#000" stroke-width="1.7" />
<line x1="302.86" y1="374.40" x2="302.86" y2="379.90" stroke="#000" stroke-width="1.7" />
<line x1="322.88" y1="664.50" x2="322.88" y2="659.00" stroke="#000" stroke-width="1.7" />
<line x1="322.88" y1="374.40" x2="322.88" y2="379.90" stroke="#000" stroke-width="1.7" />
<line x1="342.89" y1="664.50" x2="342.89" y2="659.00" stroke="#000" stroke-width="1.7" />
<line x1="342.89" y1="374.40" x2="342.89" y2="379.90" stroke="#000" stroke-width="1.7" />
<line x1="362.91" y1="664.50" x2="362.91" y2="659.00" stroke="#000" stroke-width="1.7" />
<line x1="362.91" y1="374.40" x2="362.91" y2="379.90" stroke="#000" stroke-width="1.7" />
<line x1="82.70" y1="664.50" x2="93.70" y2="664.50" stroke="#000" stroke-width="1.7" />
<line x1="362.90" y1="664.50" x2="351.90" y2="664.50" stroke="#000" stroke-width="1.7" />
<line x1="82.70" y1="616.15" x2="93.70" y2="616.15" stroke="#000" stroke-width="1.7" />
<line x1="362.90" y1="616.15" x2="351.90" y2="616.15" stroke="#000" stroke-width="1.7" />
<line x1="82.70" y1="567.80" x2="93.70" y2="567.80" stroke="#000" stroke-width="1.7" />
<line x1="362.90" y1="567.80" x2="351.90" y2="567.80" stroke="#000" stroke-width="1.7" />
<line x1="82.70" y1="519.45" x2="93.70" y2="519.45" stroke="#000" stroke-width="1.7" />
<line x1="362.90" y1="519.45" x2="351.90" y2="519.45" stroke="#000" stroke-width="1.7" />
<line x1="82.70" y1="471.10" x2="93.70" y2="471.10" stroke="#000" stroke-width="1.7" />
<line x1="362.90" y1="471.10" x2="351.90" y2="471.10" stroke="#000" stroke-width="1.7" />
<line x1="82.70" y1="422.75" x2="93.70" y2="422.75" stroke="#000" stroke-width="1.7" />
<line x1="362.90" y1="422.75" x2="351.90" y2="422.75" stroke="#000" stroke-width="1.7" />
<line x1="82.70" y1="374.40" x2="93.70" y2="374.40" stroke="#000" stroke-width="1.7" />
<line x1="362.90" y1="374.40" x2="351.90" y2="374.40" stroke="#000" stroke-width="1.7" />
<line x1="82.70" y1="664.50" x2="88.20" y2="664.50" stroke="#000" stroke-width="1.7" />
<line x1="362.90" y1="664.50" x2="357.40" y2="664.50" stroke="#000" stroke-width="1.7" />
<line x1="82.70" y1="652.41" x2="88.20" y2="652.41" stroke="#000" stroke-width="1.7" />
<line x1="362.90" y1="652.41" x2="357.40" y2="652.41" stroke="#000" stroke-width="1.7" />
<line x1="82.70" y1="640.33" x2="88.20" y2="640.33" stroke="#000" stroke-width="1.7" />
<line x1="362.90" y1="640.33" x2="357.40" y2="640.33" stroke="#000" stroke-width="1.7" />
<line x1="82.70" y1="628.24" x2="88.20" y2="628.24" stroke="#000" stroke-width="1.7" />
<line x1="362.90" y1="628.24" x2="357.40" y2="628.24" stroke="#000" stroke-width="1.7" />
<line x1="82.70" y1="616.15" x2="88.20" y2="616.15" stroke="#000" stroke-width="1.7" />
<line x1="362.90" y1="616.15" x2="357.40" y2="616.15" stroke="#000" stroke-width="1.7" />
<line x1="82.70" y1="604.06" x2="88.20" y2="604.06" stroke="#000" stroke-width="1.7" />
<line x1="362.90" y1="604.06" x2="357.40" y2="604.06" stroke="#000" stroke-width="1.7" />
<line x1="82.70" y1="591.98" x2="88.20" y2="591.98" stroke="#000" stroke-width="1.7" />
<line x1="362.90" y1="591.98" x2="357.40" y2="591.98" stroke="#000" stroke-width="1.7" />
<line x1="82.70" y1="579.89" x2="88.20" y2="579.89" stroke="#000" stroke-width="1.7" />
<line x1="362.90" y1="579.89" x2="357.40" y2="579.89" stroke="#000" stroke-width="1.7" />
<line x1="82.70" y1="567.80" x2="88.20" y2="567.80" stroke="#000" stroke-width="1.7" />
<line x1="362.90" y1="567.80" x2="357.40" y2="567.80" stroke="#000" stroke-width="1.7" />
<line x1="82.70" y1="555.71" x2="88.20" y2="555.71" stroke="#000" stroke-width="1.7" />
<line x1="362.90" y1="555.71" x2="357.40" y2="555.71" stroke="#000" stroke-width="1.7" />
<line x1="82.70" y1="543.62" x2="88.20" y2="543.62" stroke="#000" stroke-width="1.7" />
<line x1="362.90" y1="543.62" x2="357.40" y2="543.62" stroke="#000" stroke-width="1.7" />
<line x1="82.70" y1="531.54" x2="88.20" y2="531.54" stroke="#000" stroke-width="1.7" />
<line x1="362.90" y1="531.54" x2="357.40" y2="531.54" stroke="#000" stroke-width="1.7" />
<line x1="82.70" y1="519.45" x2="88.20" y2="519.45" stroke="#000" stroke-width="1.7" />
<line x1="362.90" y1="519.45" x2="357.40" y2="519.45" stroke="#000" stroke-width="1.7" />
<line x1="82.70" y1="507.36" x2="88.20" y2="507.36" stroke="#000" stroke-width="1.7" />
<line x1="362.90" y1="507.36" x2="357.40" y2="507.36" stroke="#000" stroke-width="1.7" />
<line x1="82.70" y1="495.27" x2="88.20" y2="495.27" stroke="#000" stroke-width="1.7" />
<line x1="362.90" y1="495.27" x2="357.40" y2="495.27" stroke="#000" stroke-width="1.7" />
<line x1="82.70" y1="483.19" x2="88.20" y2="483.19" stroke="#000" stroke-width="1.7" />
<line x1="362.90" y1="483.19" x2="357.40" y2="483.19" stroke="#000" stroke-width="1.7" />
<line x1="82.70" y1="471.10" x2="88.20" y2="471.10" stroke="#000" stroke-width="1.7" />
<line x1="362.90" y1="471.10" x2="357.40" y2="471.10" stroke="#000" stroke-width="1.7" />
<line x1="82.70" y1="459.01" x2="88.20" y2="459.01" stroke="#000" stroke-width="1.7" />
<line x1="362.90" y1="459.01" x2="357.40" y2="459.01" stroke="#000" stroke-width="1.7" />
<line x1="82.70" y1="446.93" x2="88.20" y2="446.93" stroke="#000" stroke-width="1.7" />
<line x1="362.90" y1="446.93" x2="357.40" y2="446.93" stroke="#000" stroke-width="1.7" />
<line x1="82.70" y1="434.84" x2="88.20" y2="434.84" stroke="#000" stroke-width="1.7" />
<line x1="362.90" y1="434.84" x2="357.40" y2="434.84" stroke="#000" stroke-width="1.7" />
<line x1="82.70" y1="422.75" x2="88.20" y2="422.75" stroke="#000" stroke-width="1.7" />
<line x1="362.90" y1="422.75" x2="357.40" y2="422.75" stroke="#000" stroke-width="1.7" />
<line x1="82.70" y1="410.66" x2="88.20" y2="410.66" stroke="#000" stroke-width="1.7" />
<line x1="362.90" y1="410.66" x2="357.40" y2="410.66" stroke="#000" stroke-width="1.7" />
<line x1="82.70" y1="398.57" x2="88.20" y2="398.57" stroke="#000" stroke-width="1.7" />
<line x1="362.90" y1="398.57" x2="357.40" y2="398.57" stroke="#000" stroke-width="1.7" />
<line x1="82.70" y1="386.49" x2="88.20" y2="386.49" stroke="#000" stroke-width="1.7" />
<line x1="362.90" y1="386.49" x2="357.40" y2="386.49" stroke="#000" stroke-width="1.7" />
<line x1="82.70" y1="374.40" x2="88.20" y2="374.40" stroke="#000" stroke-width="1.7" />
<line x1="362.90" y1="374.40" x2="357.40" y2="374.40" stroke="#000" stroke-width="1.7" />
<text x="0" y="0" transform="translate(123.23 686.70)" text-anchor="middle" fill="#000" style="font-family:'Liberation Sans',sans-serif;font-size:17px;font-weight:normal;letter-spacing:0.9px;"  stroke="#000" stroke-width="0.3">0.04</text>
<text x="0" y="0" transform="translate(203.29 686.70)" text-anchor="middle" fill="#000" style="font-family:'Liberation Sans',sans-serif;font-size:17px;font-weight:normal;letter-spacing:0.9px;"  stroke="#000" stroke-width="0.3">0.06</text>
<text x="0" y="0" transform="translate(283.35 686.70)" text-anchor="middle" fill="#000" style="font-family:'Liberation Sans',sans-serif;font-size:17px;font-weight:normal;letter-spacing:0.9px;"  stroke="#000" stroke-width="0.3">0.08</text>
<text x="0" y="0" transform="translate(363.41 686.70)" text-anchor="middle" fill="#000" style="font-family:'Liberation Sans',sans-serif;font-size:17px;font-weight:normal;letter-spacing:0.9px;"  stroke="#000" stroke-width="0.3">0.1</text>
<text x="0" y="0" transform="translate(73.60 670.60)" text-anchor="end" fill="#000" style="font-family:'Liberation Sans',sans-serif;font-size:17px;font-weight:normal;letter-spacing:0.9px;"  stroke="#000" stroke-width="0.3">0</text>
<text x="0" y="0" transform="translate(73.60 622.25)" text-anchor="end" fill="#000" style="font-family:'Liberation Sans',sans-serif;font-size:17px;font-weight:normal;letter-spacing:0.9px;"  stroke="#000" stroke-width="0.3">20</text>
<text x="0" y="0" transform="translate(73.60 573.90)" text-anchor="end" fill="#000" style="font-family:'Liberation Sans',sans-serif;font-size:17px;font-weight:normal;letter-spacing:0.9px;"  stroke="#000" stroke-width="0.3">40</text>
<text x="0" y="0" transform="translate(73.60 525.55)" text-anchor="end" fill="#000" style="font-family:'Liberation Sans',sans-serif;font-size:17px;font-weight:normal;letter-spacing:0.9px;"  stroke="#000" stroke-width="0.3">60</text>
<text x="0" y="0" transform="translate(73.60 477.20)" text-anchor="end" fill="#000" style="font-family:'Liberation Sans',sans-serif;font-size:17px;font-weight:normal;letter-spacing:0.9px;"  stroke="#000" stroke-width="0.3">80</text>
<text x="0" y="0" transform="translate(73.60 428.85)" text-anchor="end" fill="#000" style="font-family:'Liberation Sans',sans-serif;font-size:17px;font-weight:normal;letter-spacing:0.9px;"  stroke="#000" stroke-width="0.3">100</text>
<text x="0" y="0" transform="translate(73.60 380.50)" text-anchor="end" fill="#000" style="font-family:'Liberation Sans',sans-serif;font-size:17px;font-weight:normal;letter-spacing:0.9px;"  stroke="#000" stroke-width="0.3">120</text>
<text x="0" y="0" transform="translate(207.62 712.60) scale(1.1304 1)" fill="#000" style="font-family:'Liberation Serif',serif;font-size:22.5px;font-weight:normal;letter-spacing:0.0px;" stroke="#000" stroke-width="0.18">f</text>
<text x="0" y="0" transform="translate(216.42 718.70) scale(1.1912 1)" fill="#000" style="font-family:'Liberation Sans',sans-serif;font-size:11.8px;font-weight:bold;letter-spacing:0.3px;" stroke="#000" stroke-width="0.2">sat</text>
<text x="0" y="0" transform="translate(29.00 540.29) rotate(-90) scale(0.9845 1)" fill="#000" style="font-family:'Liberation Serif',serif;font-size:22.5px;font-weight:normal;letter-spacing:1.5px;" stroke="#000" stroke-width="0.18">PDF</text>
<clipPath id="clip4"><rect x="466.6" y="374.7" width="279.6" height="289.7"/></clipPath>
<path d="M589.0 668.5h0M590.9 662.0h0M592.9 655.6h0M594.9 649.2h0M597.1 642.8h0M599.4 636.6h0M601.9 630.4h0M604.5 624.3h0M607.2 618.3h0M610.2 612.4h0M613.3 606.7h0M616.6 601.2h0M620.2 595.9h0M624.0 591.0h0M628.2 586.4h0M632.7 582.3h0M637.6 579.1h0M642.8 576.8h0M648.3 575.9h0M653.8 576.6h0M659.1 578.8h0M663.9 582.1h0M668.3 586.3h0M672.3 591.0h0M676.0 596.2h0M679.4 601.6h0M682.6 607.2h0M685.7 613.0h0M688.5 618.9h0M691.3 624.9h0M693.9 631.0h0M696.5 637.1h0M699.0 643.3h0M701.5 649.4h0M703.9 655.7h0M706.3 661.9h0" fill="none" stroke="#000" stroke-width="2.5" stroke-linecap="round" clip-path="url(#clip4)"/>
<polyline points="592.00,417.86 593.69,418.07 595.39,418.43 597.08,418.94 598.78,419.60 600.47,420.41 602.17,421.37 603.86,422.47 605.56,423.73 607.25,425.13 608.95,426.69 610.64,428.39 612.34,430.23 614.03,432.23 615.73,434.36 617.42,436.65 619.12,439.07 620.81,441.64 622.51,444.35 624.20,447.19 625.90,450.18 627.59,453.29 629.29,456.55 630.98,459.93 632.68,463.45 634.37,467.10 636.07,470.87 637.76,474.77 639.46,478.80 641.15,482.94 642.85,487.22 644.54,491.61 646.24,496.13 647.93,500.76 649.63,505.52 651.32,510.40 653.02,515.39 654.71,520.51 656.41,525.76 658.10,531.12 659.80,536.62 661.49,542.24 663.19,548.00 664.88,553.89 666.58,559.93 668.27,566.11 669.97,572.44 671.66,578.94 673.36,585.60 675.05,592.44 676.75,599.46 678.44,606.69 680.14,614.12 681.83,621.78 683.53,629.68 685.22,637.83 686.92,646.25 688.61,654.96 690.31,663.99 692.00,673.35" fill="none" stroke="#000" stroke-width="2.1" stroke-linejoin="round" stroke-linecap="butt" stroke-dasharray="12.5 5.6" clip-path="url(#clip4)"/>
<polyline points="484.50,669.02 486.39,659.31 488.29,649.88 490.18,640.73 492.08,631.85 493.97,623.23 495.87,614.87 497.76,606.76 499.66,598.89 501.55,591.25 503.45,583.84 505.34,576.65 507.24,569.67 509.13,562.89 511.03,556.32 512.92,549.93 514.82,543.73 516.71,537.70 518.61,531.85 520.50,526.16 522.40,520.64 524.29,515.27 526.19,510.05 528.08,504.99 529.98,500.06 531.87,495.29 533.77,490.65 535.66,486.15 537.56,481.78 539.45,477.55 541.35,473.46 543.24,469.50 545.14,465.67 547.03,461.98 548.93,458.42 550.82,455.00 552.72,451.71 554.61,448.56 556.51,445.55 558.40,442.69 560.30,439.96 562.19,437.38 564.09,434.96 565.98,432.68 567.88,430.56 569.77,428.59 571.67,426.78 573.56,425.14 575.46,423.65 577.35,422.34 579.25,421.19 581.14,420.22 583.04,419.42 584.93,418.80 586.83,418.35 588.72,418.09 590.62,418.00 592.51,418.09 594.41,418.37 596.30,418.83 598.20,419.47 600.09,420.30 601.99,421.30 603.88,422.49 605.78,423.85 607.67,425.39 609.57,427.11 611.46,428.99 613.36,431.04 615.25,433.26 617.15,435.64 619.04,438.17 620.94,440.86 622.83,443.69 624.73,446.66 626.62,449.76 628.52,452.99 630.41,456.34 632.31,459.81 634.20,463.38 636.10,467.05 637.99,470.82 639.89,474.67 641.78,478.60 643.68,482.60 645.57,486.66 647.47,490.78 649.36,494.95 651.26,499.16 653.15,503.40 655.05,507.68 656.94,511.99 658.84,516.32 660.73,520.66 662.63,525.03 664.52,529.41 666.42,533.80 668.31,538.22 670.21,542.65 672.10,547.11 674.00,551.59 675.89,556.12 677.79,560.70 679.68,565.34 681.58,570.06 683.47,574.87 685.37,579.80 687.26,584.87 689.16,590.11 691.05,595.55 692.95,601.23 694.84,607.17 696.74,613.44 698.63,620.06 700.53,627.11 702.42,634.63 704.32,642.69 706.21,651.35 708.11,660.69 710.00,670.80" fill="none" stroke="#000" stroke-width="2.1" stroke-linejoin="round" stroke-linecap="butt" clip-path="url(#clip4)"/>
<path d="M569.8 668.2h0M571.8 661.7h0M573.8 655.3h0M575.9 649.0h0M578.2 642.6h0M580.5 636.4h0M582.9 630.2h0M585.5 624.1h0M588.2 618.1h0M591.1 612.1h0M594.1 606.4h0M597.3 600.7h0M600.7 595.3h0M604.4 590.1h0M608.3 585.2h0M612.5 580.6h0M616.9 576.6h0M621.7 573.1h0M626.8 570.4h0M632.2 568.7h0M637.7 568.1h0M643.2 568.8h0M648.6 570.7h0M653.6 573.5h0M658.3 577.2h0M662.7 581.5h0M666.7 586.2h0M670.4 591.3h0M673.9 596.7h0M677.2 602.3h0M680.2 608.0h0M683.1 613.9h0M685.9 619.9h0M688.5 626.0h0M691.0 632.2h0M693.4 638.4h0M695.7 644.6h0M697.9 651.0h0M700.1 657.3h0M702.2 663.7h0" fill="none" stroke="#f00" stroke-width="2.5" stroke-linecap="round" clip-path="url(#clip4)"/>
<polyline points="580.00,419.01 581.79,419.20 583.58,419.55 585.36,420.05 587.15,420.71 588.94,421.54 590.73,422.52 592.52,423.66 594.31,424.96 596.09,426.43 597.88,428.05 599.67,429.83 601.52,431.78 603.39,433.87 605.26,436.13 607.13,438.54 609.00,441.10 610.87,443.81 612.73,446.66 614.60,449.66 616.47,452.81 618.34,456.09 620.21,459.50 622.08,463.05 623.95,466.72 625.82,470.52 627.68,474.44 629.55,478.47 631.42,482.61 633.29,486.87 635.16,491.22 637.03,495.68 638.90,500.24 640.76,504.90 642.60,509.64 644.38,514.48 646.17,519.41 647.96,524.43 649.75,529.54 651.54,534.74 653.33,540.04 655.11,545.43 656.90,550.93 658.69,556.54 660.48,562.26 662.27,568.11 664.05,574.09 665.84,580.23 667.63,586.53 669.42,593.01 671.21,599.70 672.99,606.61 674.78,613.78 676.57,621.23 678.36,629.00 680.15,637.11 681.94,645.62 683.72,654.55 685.51,663.98 687.30,673.93" fill="none" stroke="#f00" stroke-width="2.1" stroke-linejoin="round" stroke-linecap="butt" stroke-dasharray="12.5 5.6" clip-path="url(#clip4)"/>
<polyline points="472.50,669.66 474.46,659.66 476.42,649.94 478.37,640.51 480.33,631.35 482.29,622.46 484.25,613.82 486.21,605.42 488.16,597.27 490.12,589.34 492.08,581.64 494.04,574.16 496.00,566.89 497.95,559.82 499.91,552.96 501.87,546.29 503.83,539.81 505.79,533.52 507.74,527.42 509.70,521.49 511.66,515.75 513.62,510.18 515.58,504.78 517.53,499.55 519.49,494.49 521.45,489.60 523.41,484.87 525.37,480.31 527.32,475.92 529.28,471.69 531.24,467.62 533.20,463.72 535.16,459.98 537.11,456.40 539.07,452.99 541.03,449.74 542.99,446.65 544.95,443.73 546.90,440.97 548.86,438.38 550.82,435.96 552.78,433.70 554.74,431.61 556.69,429.69 558.65,427.94 560.61,426.35 562.57,424.93 564.53,423.69 566.48,422.61 568.44,421.70 570.40,420.96 572.36,420.39 574.32,419.99 576.27,419.76 578.23,419.69 580.19,419.79 582.15,420.06 584.11,420.49 586.06,421.08 588.02,421.84 589.98,422.76 591.94,423.83 593.89,425.07 595.85,426.45 597.81,427.99 599.77,429.67 601.73,431.50 603.68,433.48 605.64,435.59 607.60,437.84 609.56,440.22 611.52,442.73 613.47,445.37 615.43,448.12 617.39,451.00 619.35,453.99 621.31,457.08 623.26,460.28 625.22,463.58 627.18,466.98 629.14,470.47 631.10,474.05 633.05,477.70 635.01,481.44 636.97,485.26 638.93,489.14 640.89,493.10 642.84,497.11 644.80,501.19 646.76,505.33 648.72,509.53 650.68,513.78 652.63,518.08 654.59,522.43 656.55,526.84 658.51,531.30 660.47,535.81 662.42,540.37 664.38,545.00 666.34,549.68 668.30,554.42 670.26,559.24 672.21,564.13 674.17,569.11 676.13,574.17 678.09,579.34 680.05,584.62 682.00,590.03 683.96,595.58 685.92,601.28 687.88,607.16 689.84,613.23 691.79,619.52 693.75,626.05 695.71,632.84 697.67,639.92 699.63,647.33 701.58,655.09 703.54,663.25 705.50,671.83" fill="none" stroke="#f00" stroke-width="2.1" stroke-linejoin="round" stroke-linecap="butt" clip-path="url(#clip4)"/>
<path d="M553.0 669.1h0M555.0 662.6h0M557.0 656.2h0M559.1 649.8h0M561.3 643.5h0M563.5 637.2h0M565.9 630.9h0M568.3 624.7h0M570.9 618.6h0M573.6 612.6h0M576.5 606.7h0M579.5 600.9h0M582.7 595.2h0M586.0 589.8h0M589.6 584.5h0M593.5 579.5h0M597.6 574.9h0M602.0 570.8h0M606.8 567.1h0M611.8 564.1h0M617.0 562.0h0M622.5 560.7h0M628.0 560.3h0M633.5 560.9h0M638.9 562.5h0M644.2 564.8h0M649.1 567.9h0M653.8 571.5h0M658.3 575.7h0M662.4 580.2h0M666.3 585.1h0M670.0 590.3h0M673.4 595.8h0M676.6 601.4h0M679.6 607.2h0M682.5 613.1h0M685.2 619.1h0M687.7 625.2h0M690.2 631.4h0M692.5 637.7h0M694.7 644.1h0M696.7 650.5h0M698.7 656.9h0M700.7 663.4h0" fill="none" stroke="#00f" stroke-width="2.5" stroke-linecap="round" clip-path="url(#clip4)"/>
<polyline points="566.00,421.85 567.91,422.18 569.81,422.69 571.72,423.36 573.63,424.21 575.53,425.23 577.44,426.41 579.35,427.76 581.25,429.26 583.16,430.93 585.07,432.76 586.97,434.74 588.88,436.87 590.79,439.15 592.69,441.57 594.60,444.13 596.51,446.84 598.42,449.67 600.34,452.64 602.33,455.74 604.32,458.96 606.31,462.30 608.31,465.75 610.30,469.32 612.29,473.01 614.28,476.79 616.28,480.68 618.27,484.68 620.26,488.77 622.25,492.96 624.25,497.24 626.24,501.61 628.23,506.08 630.23,510.63 632.22,515.28 634.21,520.01 636.20,524.84 638.20,529.75 640.19,534.76 642.16,539.86 644.07,545.06 645.98,550.36 647.88,555.76 649.79,561.27 651.70,566.90 653.61,572.66 655.51,578.54 657.42,584.56 659.33,590.74 661.23,597.07 663.14,603.58 665.05,610.27 666.95,617.17 668.86,624.28 670.77,631.62 672.67,639.22 674.58,647.10 676.49,655.27 678.39,663.75 680.30,672.59" fill="none" stroke="#00f" stroke-width="2.1" stroke-linejoin="round" stroke-linecap="butt" stroke-dasharray="12.5 5.6" clip-path="url(#clip4)"/>
<polyline points="466.60,638.55 468.59,629.09 470.58,619.97 472.57,611.19 474.56,602.71 476.55,594.52 478.54,586.59 480.54,578.91 482.53,571.48 484.52,564.26 486.51,557.26 488.50,550.47 490.49,543.87 492.48,537.46 494.47,531.23 496.46,525.18 498.45,519.31 500.44,513.60 502.43,508.07 504.42,502.70 506.42,497.50 508.41,492.46 510.40,487.58 512.39,482.87 514.38,478.33 516.37,473.95 518.36,469.73 520.35,465.69 522.34,461.81 524.33,458.11 526.32,454.57 528.31,451.21 530.30,448.03 532.29,445.02 534.29,442.18 536.28,439.53 538.27,437.05 540.26,434.76 542.25,432.64 544.24,430.71 546.23,428.95 548.22,427.38 550.21,425.99 552.20,424.78 554.19,423.75 556.18,422.89 558.17,422.22 560.17,421.72 562.16,421.39 564.15,421.24 566.14,421.25 568.13,421.43 570.12,421.78 572.11,422.29 574.10,422.96 576.09,423.79 578.08,424.76 580.07,425.89 582.06,427.16 584.05,428.57 586.05,430.11 588.04,431.79 590.03,433.60 592.02,435.53 594.01,437.58 596.00,439.75 597.99,442.02 599.98,444.41 601.97,446.89 603.96,449.47 605.95,452.15 607.94,454.91 609.93,457.76 611.93,460.69 613.92,463.70 615.91,466.78 617.90,469.94 619.89,473.15 621.88,476.44 623.87,479.78 625.86,483.18 627.85,486.64 629.84,490.16 631.83,493.72 633.82,497.34 635.81,501.00 637.81,504.72 639.80,508.48 641.79,512.30 643.78,516.16 645.77,520.07 647.76,524.03 649.75,528.05 651.74,532.11 653.73,536.24 655.72,540.42 657.71,544.66 659.70,548.97 661.69,553.34 663.68,557.78 665.68,562.30 667.67,566.90 669.66,571.58 671.65,576.35 673.64,581.21 675.63,586.17 677.62,591.24 679.61,596.42 681.60,601.71 683.59,607.12 685.58,612.66 687.57,618.33 689.56,624.14 691.56,630.09 693.55,636.19 695.54,642.45 697.53,648.86 699.52,655.44 701.51,662.18 703.50,669.10" fill="none" stroke="#00f" stroke-width="2.1" stroke-linejoin="round" stroke-linecap="butt" clip-path="url(#clip4)"/>
<rect x="466.6" y="374.7" width="279.6" height="289.7" fill="none" stroke="#000" stroke-width="1.7"/>
<line x1="466.60" y1="664.40" x2="466.60" y2="653.40" stroke="#000" stroke-width="1.7" />
<line x1="466.60" y1="374.70" x2="466.60" y2="385.70" stroke="#000" stroke-width="1.7" />
<line x1="546.90" y1="664.40" x2="546.90" y2="653.40" stroke="#000" stroke-width="1.7" />
<line x1="546.90" y1="374.70" x2="546.90" y2="385.70" stroke="#000" stroke-width="1.7" />
<line x1="627.20" y1="664.40" x2="627.20" y2="653.40" stroke="#000" stroke-width="1.7" />
<line x1="627.20" y1="374.70" x2="627.20" y2="385.70" stroke="#000" stroke-width="1.7" />
<line x1="707.50" y1="664.40" x2="707.50" y2="653.40" stroke="#000" stroke-width="1.7" />
<line x1="707.50" y1="374.70" x2="707.50" y2="385.70" stroke="#000" stroke-width="1.7" />
<line x1="490.77" y1="664.40" x2="490.77" y2="658.90" stroke="#000" stroke-width="1.7" />
<line x1="490.77" y1="374.70" x2="490.77" y2="380.20" stroke="#000" stroke-width="1.7" />
<line x1="504.91" y1="664.40" x2="504.91" y2="658.90" stroke="#000" stroke-width="1.7" />
<line x1="504.91" y1="374.70" x2="504.91" y2="380.20" stroke="#000" stroke-width="1.7" />
<line x1="514.95" y1="664.40" x2="514.95" y2="658.90" stroke="#000" stroke-width="1.7" />
<line x1="514.95" y1="374.70" x2="514.95" y2="380.20" stroke="#000" stroke-width="1.7" />
<line x1="522.73" y1="664.40" x2="522.73" y2="658.90" stroke="#000" stroke-width="1.7" />
<line x1="522.73" y1="374.70" x2="522.73" y2="380.20" stroke="#000" stroke-width="1.7" />
<line x1="529.09" y1="664.40" x2="529.09" y2="658.90" stroke="#000" stroke-width="1.7" />
<line x1="529.09" y1="374.70" x2="529.09" y2="380.20" stroke="#000" stroke-width="1.7" />
<line x1="534.46" y1="664.40" x2="534.46" y2="658.90" stroke="#000" stroke-width="1.7" />
<line x1="534.46" y1="374.70" x2="534.46" y2="380.20" stroke="#000" stroke-width="1.7" />
<line x1="539.12" y1="664.40" x2="539.12" y2="658.90" stroke="#000" stroke-width="1.7" />
<line x1="539.12" y1="374.70" x2="539.12" y2="380.20" stroke="#000" stroke-width="1.7" />
<line x1="543.23" y1="664.40" x2="543.23" y2="658.90" stroke="#000" stroke-width="1.7" />
<line x1="543.23" y1="374.70" x2="543.23" y2="380.20" stroke="#000" stroke-width="1.7" />
<line x1="571.07" y1="664.40" x2="571.07" y2="658.90" stroke="#000" stroke-width="1.7" />
<line x1="571.07" y1="374.70" x2="571.07" y2="380.20" stroke="#000" stroke-width="1.7" />
<line x1="585.21" y1="664.40" x2="585.21" y2="658.90" stroke="#000" stroke-width="1.7" />
<line x1="585.21" y1="374.70" x2="585.21" y2="380.20" stroke="#000" stroke-width="1.7" />
<line x1="595.25" y1="664.40" x2="595.25" y2="658.90" stroke="#000" stroke-width="1.7" />
<line x1="595.25" y1="374.70" x2="595.25" y2="380.20" stroke="#000" stroke-width="1.7" />
<line x1="603.03" y1="664.40" x2="603.03" y2="658.90" stroke="#000" stroke-width="1.7" />
<line x1="603.03" y1="374.70" x2="603.03" y2="380.20" stroke="#000" stroke-width="1.7" />
<line x1="609.39" y1="664.40" x2="609.39" y2="658.90" stroke="#000" stroke-width="1.7" />
<line x1="609.39" y1="374.70" x2="609.39" y2="380.20" stroke="#000" stroke-width="1.7" />
<line x1="614.76" y1="664.40" x2="614.76" y2="658.90" stroke="#000" stroke-width="1.7" />
<line x1="614.76" y1="374.70" x2="614.76" y2="380.20" stroke="#000" stroke-width="1.7" />
<line x1="619.42" y1="664.40" x2="619.42" y2="658.90" stroke="#000" stroke-width="1.7" />
<line x1="619.42" y1="374.70" x2="619.42" y2="380.20" stroke="#000" stroke-width="1.7" />
<line x1="623.53" y1="664.40" x2="623.53" y2="658.90" stroke="#000" stroke-width="1.7" />
<line x1="623.53" y1="374.70" x2="623.53" y2="380.20" stroke="#000" stroke-width="1.7" />
<line x1="651.37" y1="664.40" x2="651.37" y2="658.90" stroke="#000" stroke-width="1.7" />
<line x1="651.37" y1="374.70" x2="651.37" y2="380.20" stroke="#000" stroke-width="1.7" />
<line x1="665.51" y1="664.40" x2="665.51" y2="658.90" stroke="#000" stroke-width="1.7" />
<line x1="665.51" y1="374.70" x2="665.51" y2="380.20" stroke="#000" stroke-width="1.7" />
<line x1="675.55" y1="664.40" x2="675.55" y2="658.90" stroke="#000" stroke-width="1.7" />
<line x1="675.55" y1="374.70" x2="675.55" y2="380.20" stroke="#000" stroke-width="1.7" />
<line x1="683.33" y1="664.40" x2="683.33" y2="658.90" stroke="#000" stroke-width="1.7" />
<line x1="683.33" y1="374.70" x2="683.33" y2="380.20" stroke="#000" stroke-width="1.7" />
<line x1="689.69" y1="664.40" x2="689.69" y2="658.90" stroke="#000" stroke-width="1.7" />
<line x1="689.69" y1="374.70" x2="689.69" y2="380.20" stroke="#000" stroke-width="1.7" />
<line x1="695.06" y1="664.40" x2="695.06" y2="658.90" stroke="#000" stroke-width="1.7" />
<line x1="695.06" y1="374.70" x2="695.06" y2="380.20" stroke="#000" stroke-width="1.7" />
<line x1="699.72" y1="664.40" x2="699.72" y2="658.90" stroke="#000" stroke-width="1.7" />
<line x1="699.72" y1="374.70" x2="699.72" y2="380.20" stroke="#000" stroke-width="1.7" />
<line x1="703.83" y1="664.40" x2="703.83" y2="658.90" stroke="#000" stroke-width="1.7" />
<line x1="703.83" y1="374.70" x2="703.83" y2="380.20" stroke="#000" stroke-width="1.7" />
<line x1="731.67" y1="664.40" x2="731.67" y2="658.90" stroke="#000" stroke-width="1.7" />
<line x1="731.67" y1="374.70" x2="731.67" y2="380.20" stroke="#000" stroke-width="1.7" />
<line x1="745.81" y1="664.40" x2="745.81" y2="658.90" stroke="#000" stroke-width="1.7" />
<line x1="745.81" y1="374.70" x2="745.81" y2="380.20" stroke="#000" stroke-width="1.7" />
<line x1="466.60" y1="664.40" x2="477.60" y2="664.40" stroke="#000" stroke-width="1.7" />
<line x1="746.20" y1="664.40" x2="735.20" y2="664.40" stroke="#000" stroke-width="1.7" />
<line x1="466.60" y1="538.30" x2="477.60" y2="538.30" stroke="#000" stroke-width="1.7" />
<line x1="746.20" y1="538.30" x2="735.20" y2="538.30" stroke="#000" stroke-width="1.7" />
<line x1="466.60" y1="412.20" x2="477.60" y2="412.20" stroke="#000" stroke-width="1.7" />
<line x1="746.20" y1="412.20" x2="735.20" y2="412.20" stroke="#000" stroke-width="1.7" />
<line x1="466.60" y1="626.44" x2="472.10" y2="626.44" stroke="#000" stroke-width="1.7" />
<line x1="746.20" y1="626.44" x2="740.70" y2="626.44" stroke="#000" stroke-width="1.7" />
<line x1="466.60" y1="604.24" x2="472.10" y2="604.24" stroke="#000" stroke-width="1.7" />
<line x1="746.20" y1="604.24" x2="740.70" y2="604.24" stroke="#000" stroke-width="1.7" />
<line x1="466.60" y1="588.48" x2="472.10" y2="588.48" stroke="#000" stroke-width="1.7" />
<line x1="746.20" y1="588.48" x2="740.70" y2="588.48" stroke="#000" stroke-width="1.7" />
<line x1="466.60" y1="576.26" x2="472.10" y2="576.26" stroke="#000" stroke-width="1.7" />
<line x1="746.20" y1="576.26" x2="740.70" y2="576.26" stroke="#000" stroke-width="1.7" />
<line x1="466.60" y1="566.28" x2="472.10" y2="566.28" stroke="#000" stroke-width="1.7" />
<line x1="746.20" y1="566.28" x2="740.70" y2="566.28" stroke="#000" stroke-width="1.7" />
<line x1="466.60" y1="557.83" x2="472.10" y2="557.83" stroke="#000" stroke-width="1.7" />
<line x1="746.20" y1="557.83" x2="740.70" y2="557.83" stroke="#000" stroke-width="1.7" />
<line x1="466.60" y1="550.52" x2="472.10" y2="550.52" stroke="#000" stroke-width="1.7" />
<line x1="746.20" y1="550.52" x2="740.70" y2="550.52" stroke="#000" stroke-width="1.7" />
<line x1="466.60" y1="544.07" x2="472.10" y2="544.07" stroke="#000" stroke-width="1.7" />
<line x1="746.20" y1="544.07" x2="740.70" y2="544.07" stroke="#000" stroke-width="1.7" />
<line x1="466.60" y1="500.34" x2="472.10" y2="500.34" stroke="#000" stroke-width="1.7" />
<line x1="746.20" y1="500.34" x2="740.70" y2="500.34" stroke="#000" stroke-width="1.7" />
<line x1="466.60" y1="478.14" x2="472.10" y2="478.14" stroke="#000" stroke-width="1.7" />
<line x1="746.20" y1="478.14" x2="740.70" y2="478.14" stroke="#000" stroke-width="1.7" />
<line x1="466.60" y1="462.38" x2="472.10" y2="462.38" stroke="#000" stroke-width="1.7" />
<line x1="746.20" y1="462.38" x2="740.70" y2="462.38" stroke="#000" stroke-width="1.7" />
<line x1="466.60" y1="450.16" x2="472.10" y2="450.16" stroke="#000" stroke-width="1.7" />
<line x1="746.20" y1="450.16" x2="740.70" y2="450.16" stroke="#000" stroke-width="1.7" />
<line x1="466.60" y1="440.18" x2="472.10" y2="440.18" stroke="#000" stroke-width="1.7" />
<line x1="746.20" y1="440.18" x2="740.70" y2="440.18" stroke="#000" stroke-width="1.7" />
<line x1="466.60" y1="431.73" x2="472.10" y2="431.73" stroke="#000" stroke-width="1.7" />
<line x1="746.20" y1="431.73" x2="740.70" y2="431.73" stroke="#000" stroke-width="1.7" />
<line x1="466.60" y1="424.42" x2="472.10" y2="424.42" stroke="#000" stroke-width="1.7" />
<line x1="746.20" y1="424.42" x2="740.70" y2="424.42" stroke="#000" stroke-width="1.7" />
<line x1="466.60" y1="417.97" x2="472.10" y2="417.97" stroke="#000" stroke-width="1.7" />
<line x1="746.20" y1="417.97" x2="740.70" y2="417.97" stroke="#000" stroke-width="1.7" />
<text x="0" y="0" transform="translate(471.40 687.40)" text-anchor="end" fill="#000" style="font-family:'Liberation Sans',sans-serif;font-size:17px;font-weight:normal;letter-spacing:0.9px;"  stroke="#000" stroke-width="0.3">10</text>
<text x="0" y="0" transform="translate(472.00 682.50)" text-anchor="start" fill="#000" style="font-family:'Liberation Sans',sans-serif;font-size:10.5px;font-weight:bold;letter-spacing:0.3px;" >12</text>
<text x="0" y="0" transform="translate(551.70 687.40)" text-anchor="end" fill="#000" style="font-family:'Liberation Sans',sans-serif;font-size:17px;font-weight:normal;letter-spacing:0.9px;"  stroke="#000" stroke-width="0.3">10</text>
<text x="0" y="0" transform="translate(552.30 682.50)" text-anchor="start" fill="#000" style="font-family:'Liberation Sans',sans-serif;font-size:10.5px;font-weight:bold;letter-spacing:0.3px;" >13</text>
<text x="0" y="0" transform="translate(632.00 687.40)" text-anchor="end" fill="#000" style="font-family:'Liberation Sans',sans-serif;font-size:17px;font-weight:normal;letter-spacing:0.9px;"  stroke="#000" stroke-width="0.3">10</text>
<text x="0" y="0" transform="translate(632.60 682.50)" text-anchor="start" fill="#000" style="font-family:'Liberation Sans',sans-serif;font-size:10.5px;font-weight:bold;letter-spacing:0.3px;" >14</text>
<text x="0" y="0" transform="translate(712.30 687.40)" text-anchor="end" fill="#000" style="font-family:'Liberation Sans',sans-serif;font-size:17px;font-weight:normal;letter-spacing:0.9px;"  stroke="#000" stroke-width="0.3">10</text>
<text x="0" y="0" transform="translate(712.90 682.50)" text-anchor="start" fill="#000" style="font-family:'Liberation Sans',sans-serif;font-size:10.5px;font-weight:bold;letter-spacing:0.3px;" >15</text>
<text x="0" y="0" transform="translate(457.30 671.00)" text-anchor="end" fill="#000" style="font-family:'Liberation Sans',sans-serif;font-size:17px;font-weight:normal;letter-spacing:0.9px;"  stroke="#000" stroke-width="0.3">0.01</text>
<text x="0" y="0" transform="translate(457.30 544.40)" text-anchor="end" fill="#000" style="font-family:'Liberation Sans',sans-serif;font-size:17px;font-weight:normal;letter-spacing:0.9px;"  stroke="#000" stroke-width="0.3">0.1</text>
<text x="0" y="0" transform="translate(447.84 418.30) scale(0.8485 1)" fill="#000" style="font-family:'Liberation Serif',serif;font-size:18.5px;font-weight:normal;letter-spacing:0.0px;" stroke="#000" stroke-width="0.35">1</text>
<text x="0" y="0" transform="translate(552.22 715.90) scale(0.7979 1)" fill="#000" style="font-family:'Liberation Serif',serif;font-size:22.5px;font-weight:normal;letter-spacing:0.0px;" stroke="#000" stroke-width="0.18">M</text>
<text x="0" y="0" transform="translate(580.58 715.90) scale(1.1281 1)" fill="#000" style="font-family:'Liberation Serif',serif;font-size:22.5px;font-weight:normal;letter-spacing:1.2px;" stroke="#000" stroke-width="0.18">(h</text>
<text x="0" y="0" transform="translate(604.76 710.70) scale(1.0994 1)" fill="#000" style="font-family:'Liberation Sans',sans-serif;font-size:12px;font-weight:bold;letter-spacing:1.0px;" stroke="#000" stroke-width="0.18">−1</text>
<text x="0" y="0" transform="translate(622.92 715.90) scale(0.7979 1)" fill="#000" style="font-family:'Liberation Serif',serif;font-size:22.5px;font-weight:normal;letter-spacing:0.0px;" stroke="#000" stroke-width="0.18">M</text>
<circle cx="646.2" cy="718.60" r="4.5" fill="none" stroke="#000" stroke-width="1.3"/><circle cx="646.2" cy="718.60" r="1.2" fill="#000"/>
<text x="0" y="0" transform="translate(651.64 715.90) scale(1.2500 1)" fill="#000" style="font-family:'Liberation Serif',serif;font-size:22.5px;font-weight:normal;letter-spacing:0.0px;" stroke="#000" stroke-width="0.18">)</text>
<text x="0" y="0" transform="translate(402.40 565.73) rotate(-90) scale(1.0403 1)" fill="#000" style="font-family:'Liberation Serif',serif;font-size:22.5px;font-weight:normal;letter-spacing:2.2px;" stroke="#000" stroke-width="0.18">dp/dlgM</text>
<polyline points="648.00,403.20 676.20,403.20" fill="none" stroke="#000" stroke-width="1.25" stroke-linejoin="round" stroke-linecap="butt"/>
<text x="0" y="0" transform="translate(682.50 410.80) scale(0.85 1)" text-anchor="start" fill="#000" style="font-family:'Liberation Serif',serif;font-size:19px;font-weight:normal;letter-spacing:1.0px;" >All</text>
<polyline points="648.00,432.20 676.20,432.20" fill="none" stroke="#000" stroke-width="1.25" stroke-linejoin="round" stroke-linecap="butt" stroke-dasharray="11 7.8"/>
<text x="0" y="0" transform="translate(682.50 439.80) scale(1.01 1)" text-anchor="start" fill="#000" style="font-family:'Liberation Serif',serif;font-size:19px;font-weight:normal;letter-spacing:1.0px;" >Cen</text>
<polyline points="648.00,461.20 676.20,461.20" fill="none" stroke="#000" stroke-width="1.5" stroke-linejoin="round" stroke-linecap="round" stroke-dasharray="0.1 4.7"/>
<text x="0" y="0" transform="translate(682.50 468.80) scale(1.09 1)" text-anchor="start" fill="#000" style="font-family:'Liberation Serif',serif;font-size:19px;font-weight:normal;letter-spacing:1.0px;" >Sat</text>
</svg>
</body></html>
